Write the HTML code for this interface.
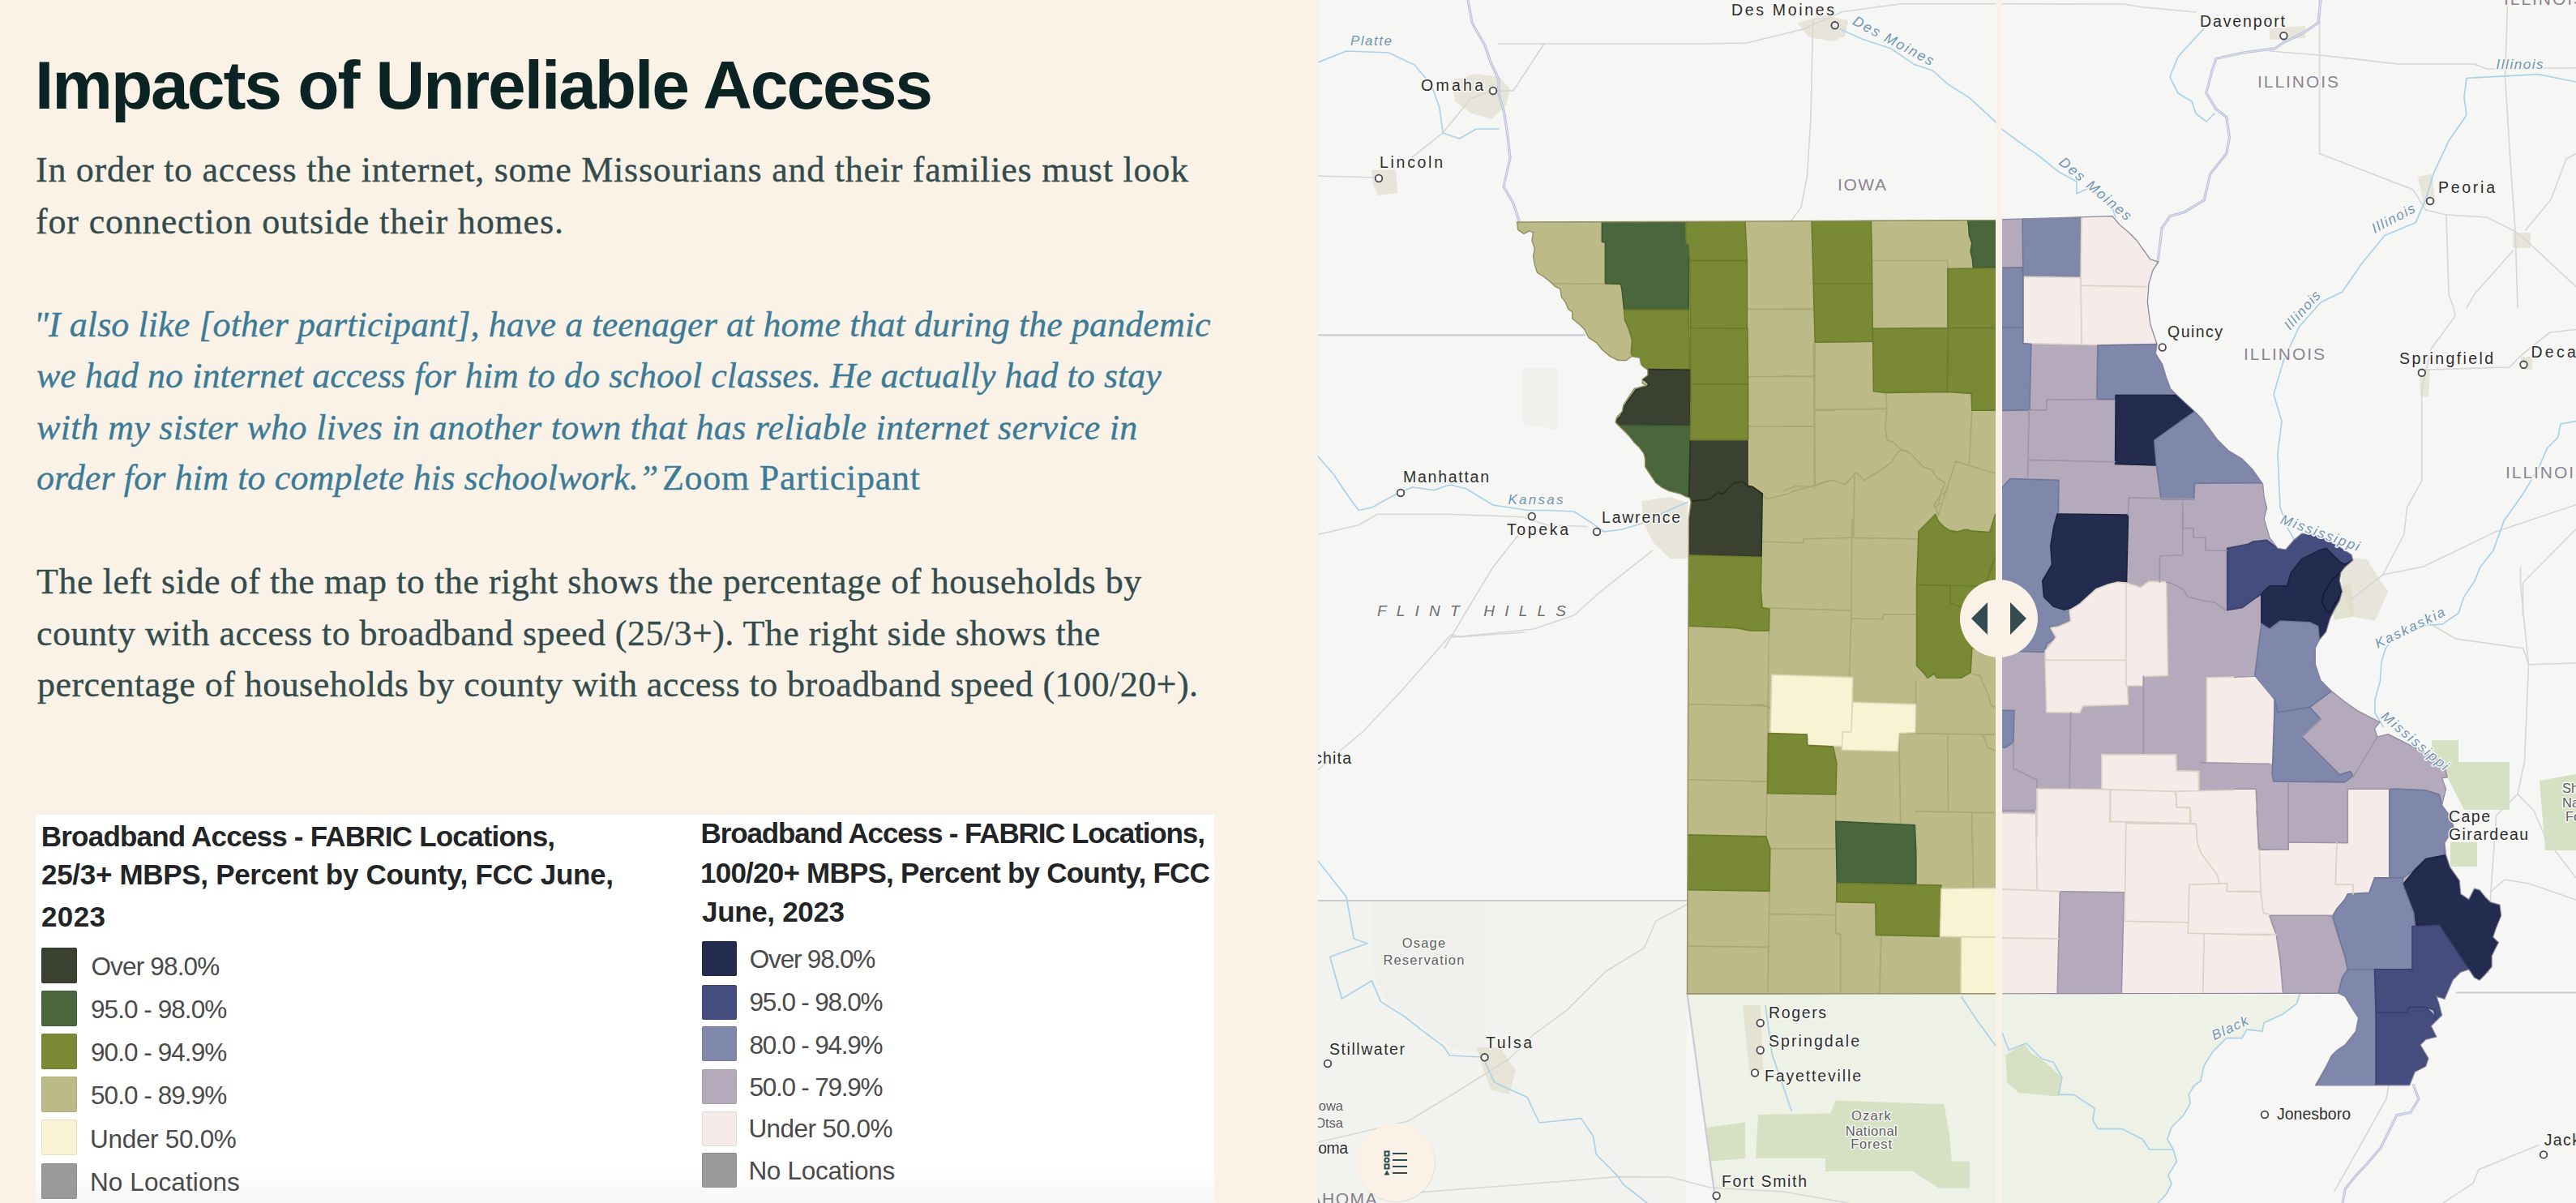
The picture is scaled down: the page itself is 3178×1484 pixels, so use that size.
<!DOCTYPE html>
<html><head><meta charset="utf-8"><title>Impacts of Unreliable Access</title>
<style>
html,body{margin:0;padding:0;width:3178px;height:1484px;overflow:hidden;background:#faf2e7}
#left{position:absolute;left:0;top:0;width:1626px;height:1484px;background:#faf2e7;overflow:hidden}
.ln{position:absolute;white-space:nowrap;line-height:1}
.b{-webkit-text-stroke:0.35px currentColor}
#map{position:absolute;left:1626px;top:0;display:block}
svg text{font-family:"Liberation Sans",sans-serif}
</style></head><body>
<div id="left">
<div class="ln" style="left:43.0px;top:62.9px;font-size:84px;font-family:'Liberation Sans', sans-serif;color:#0c2324;font-weight:bold;font-style:normal;letter-spacing:-2.074px">Impacts of Unreliable Access</div>
<div class="ln b" style="left:44.0px;top:188.2px;font-size:44px;font-family:'Liberation Serif', serif;color:#344b4c;font-weight:normal;font-style:normal;letter-spacing:0.740px">In order to access the internet, some Missourians and their families must look</div>
<div class="ln b" style="left:44.0px;top:252.2px;font-size:44px;font-family:'Liberation Serif', serif;color:#344b4c;font-weight:normal;font-style:normal;letter-spacing:0.853px">for connection outside their homes.</div>
<div class="ln b" style="left:41.4px;top:379.1px;font-size:44px;font-family:'Liberation Serif', serif;color:#3b7b98;font-weight:normal;font-style:italic;letter-spacing:0.079px">"I also like [other participant], have a teenager at home that during the pandemic</div>
<div class="ln b" style="left:45.0px;top:442.1px;font-size:44px;font-family:'Liberation Serif', serif;color:#3b7b98;font-weight:normal;font-style:italic;letter-spacing:0.026px">we had no internet access for him to do school classes. He actually had to stay</div>
<div class="ln b" style="left:45.0px;top:505.6px;font-size:44px;font-family:'Liberation Serif', serif;color:#3b7b98;font-weight:normal;font-style:italic;letter-spacing:0.283px">with my sister who lives in another town that has reliable internet service in</div>
<div class="ln b" style="left:45.0px;top:568.1px;font-size:44px;font-family:'Liberation Serif', serif;color:#3b7b98;font-weight:normal;font-style:italic;letter-spacing:0.122px">order for him to complete his schoolwork.”</div>
<div class="ln b" style="left:817.0px;top:568.1px;font-size:44px;font-family:'Liberation Serif', serif;color:#3b7b98;font-weight:normal;font-style:normal;letter-spacing:0.747px">Zoom Participant</div>
<div class="ln b" style="left:45.0px;top:696.1px;font-size:44px;font-family:'Liberation Serif', serif;color:#344b4c;font-weight:normal;font-style:normal;letter-spacing:0.557px">The left side of the map to the right shows the percentage of households by</div>
<div class="ln b" style="left:45.0px;top:760.1px;font-size:44px;font-family:'Liberation Serif', serif;color:#344b4c;font-weight:normal;font-style:normal;letter-spacing:0.457px">county with access to broadband speed (25/3+). The right side shows the</div>
<div class="ln b" style="left:46.0px;top:823.1px;font-size:44px;font-family:'Liberation Serif', serif;color:#344b4c;font-weight:normal;font-style:normal;letter-spacing:0.467px">percentage of households by county with access to broadband speed (100/20+).</div>
<div style="position:absolute;left:44px;top:1005px;width:1454px;height:479px;background:#fff"></div>
<div style="position:absolute;left:44px;top:1440px;width:1454px;height:44px;background:linear-gradient(#fff,#f6f6f6)"></div>
<div class="ln" style="left:50.8px;top:1013.9px;font-size:35px;font-family:'Liberation Sans', sans-serif;color:#222426;font-weight:bold;font-style:normal;letter-spacing:-0.789px">Broadband Access - FABRIC Locations,</div>
<div class="ln" style="left:51.0px;top:1061.4px;font-size:35px;font-family:'Liberation Sans', sans-serif;color:#222426;font-weight:bold;font-style:normal;letter-spacing:-0.308px">25/3+ MBPS, Percent by County, FCC June,</div>
<div class="ln" style="left:51.0px;top:1112.6px;font-size:35px;font-family:'Liberation Sans', sans-serif;color:#222426;font-weight:bold;font-style:normal;letter-spacing:0.400px">2023</div>
<div class="ln" style="left:864.6px;top:1010.4px;font-size:35px;font-family:'Liberation Sans', sans-serif;color:#222426;font-weight:bold;font-style:normal;letter-spacing:-1.131px">Broadband Access - FABRIC Locations,</div>
<div class="ln" style="left:864.0px;top:1058.7px;font-size:35px;font-family:'Liberation Sans', sans-serif;color:#222426;font-weight:bold;font-style:normal;letter-spacing:-0.771px">100/20+ MBPS, Percent by County, FCC</div>
<div class="ln" style="left:866.0px;top:1107.2px;font-size:35px;font-family:'Liberation Sans', sans-serif;color:#222426;font-weight:bold;font-style:normal;letter-spacing:-0.333px">June, 2023</div>
<div style="position:absolute;left:51px;top:1169px;width:44px;height:44px;background:#3a4130;border-radius:2px;box-shadow:inset 0 0 0 1px rgba(0,0,0,.08)"></div>
<div class="ln" style="left:112.4px;top:1176.9px;font-size:31.5px;font-family:'Liberation Sans', sans-serif;color:#4a4a4a;font-weight:normal;font-style:normal;letter-spacing:-0.822px">Over 98.0%</div>
<div style="position:absolute;left:866px;top:1161.4px;width:43px;height:43px;background:#232c4e;border-radius:2px;box-shadow:inset 0 0 0 1px rgba(0,0,0,.08)"></div>
<div class="ln" style="left:924.8px;top:1168.3px;font-size:31.5px;font-family:'Liberation Sans', sans-serif;color:#4a4a4a;font-weight:normal;font-style:normal;letter-spacing:-1.200px">Over 98.0%</div>
<div style="position:absolute;left:51px;top:1222px;width:44px;height:44px;background:#49663c;border-radius:2px;box-shadow:inset 0 0 0 1px rgba(0,0,0,.08)"></div>
<div class="ln" style="left:112.0px;top:1230.1px;font-size:31.5px;font-family:'Liberation Sans', sans-serif;color:#4a4a4a;font-weight:normal;font-style:normal;letter-spacing:-0.945px">95.0 - 98.0%</div>
<div style="position:absolute;left:866px;top:1214.6px;width:43px;height:43px;background:#444d7e;border-radius:2px;box-shadow:inset 0 0 0 1px rgba(0,0,0,.08)"></div>
<div class="ln" style="left:924.4px;top:1221.2px;font-size:31.5px;font-family:'Liberation Sans', sans-serif;color:#4a4a4a;font-weight:normal;font-style:normal;letter-spacing:-1.218px">95.0 - 98.0%</div>
<div style="position:absolute;left:51px;top:1274.5px;width:44px;height:44px;background:#7a8934;border-radius:2px;box-shadow:inset 0 0 0 1px rgba(0,0,0,.08)"></div>
<div class="ln" style="left:112.0px;top:1283.3px;font-size:31.5px;font-family:'Liberation Sans', sans-serif;color:#4a4a4a;font-weight:normal;font-style:normal;letter-spacing:-0.945px">90.0 - 94.9%</div>
<div style="position:absolute;left:866px;top:1266.1px;width:43px;height:43px;background:#7f87aa;border-radius:2px;box-shadow:inset 0 0 0 1px rgba(0,0,0,.08)"></div>
<div class="ln" style="left:924.4px;top:1273.5px;font-size:31.5px;font-family:'Liberation Sans', sans-serif;color:#4a4a4a;font-weight:normal;font-style:normal;letter-spacing:-1.218px">80.0 - 94.9%</div>
<div style="position:absolute;left:51px;top:1328px;width:44px;height:44px;background:#bcba86;border-radius:2px;box-shadow:inset 0 0 0 1px rgba(0,0,0,.08)"></div>
<div class="ln" style="left:112.0px;top:1336.3px;font-size:31.5px;font-family:'Liberation Sans', sans-serif;color:#4a4a4a;font-weight:normal;font-style:normal;letter-spacing:-0.945px">50.0 - 89.9%</div>
<div style="position:absolute;left:866px;top:1318.5px;width:43px;height:43px;background:#b4aabc;border-radius:2px;box-shadow:inset 0 0 0 1px rgba(0,0,0,.08)"></div>
<div class="ln" style="left:924.4px;top:1325.9px;font-size:31.5px;font-family:'Liberation Sans', sans-serif;color:#4a4a4a;font-weight:normal;font-style:normal;letter-spacing:-1.218px">50.0 - 79.9%</div>
<div style="position:absolute;left:51px;top:1381px;width:44px;height:44px;background:#f9f3d4;border-radius:2px;box-shadow:inset 0 0 0 1px rgba(0,0,0,.08)"></div>
<div class="ln" style="left:111.0px;top:1389.7px;font-size:31.5px;font-family:'Liberation Sans', sans-serif;color:#4a4a4a;font-weight:normal;font-style:normal;letter-spacing:-0.300px">Under 50.0%</div>
<div style="position:absolute;left:866px;top:1370.9px;width:43px;height:43px;background:#f5ecea;border-radius:2px;box-shadow:inset 0 0 0 1px rgba(0,0,0,.08)"></div>
<div class="ln" style="left:923.4px;top:1377.4px;font-size:31.5px;font-family:'Liberation Sans', sans-serif;color:#4a4a4a;font-weight:normal;font-style:normal;letter-spacing:-0.580px">Under 50.0%</div>
<div style="position:absolute;left:51px;top:1435px;width:44px;height:44px;background:#9a9a9a;border-radius:2px;box-shadow:inset 0 0 0 1px rgba(0,0,0,.08)"></div>
<div class="ln" style="left:111.0px;top:1442.9px;font-size:31.5px;font-family:'Liberation Sans', sans-serif;color:#4a4a4a;font-weight:normal;font-style:normal;letter-spacing:0.091px">No Locations</div>
<div style="position:absolute;left:866px;top:1422px;width:43px;height:43px;background:#9a9a9a;border-radius:2px;box-shadow:inset 0 0 0 1px rgba(0,0,0,.08)"></div>
<div class="ln" style="left:923.4px;top:1429.0px;font-size:31.5px;font-family:'Liberation Sans', sans-serif;color:#4a4a4a;font-weight:normal;font-style:normal;letter-spacing:-0.273px">No Locations</div>
</div>
<svg id="map" width="1552" height="1484" viewBox="1626 0 1552 1484">
<rect x="1626" y="0" width="1552" height="1484" fill="#f6f6f4"/>
<polygon points="2082.0,1226.0 2470.0,1226.0 2470.0,1484.0 2117.0,1484.0 2100.0,1350.0" fill="#eef1e5"/><polygon points="2470.0,1226.0 2837.5,1226.0 2833.3,1238.4 2816.4,1251.0 2793.1,1261.7 2791.0,1272.2 2772.0,1270.1 2765.7,1280.7 2746.7,1280.7 2729.8,1297.6 2719.2,1314.5 2715.0,1333.5 2706.5,1339.8 2700.2,1350.4 2702.3,1360.9 2693.9,1375.7 2679.1,1390.5 2673.8,1405.3 2681.2,1418.0 2685.4,1432.7 2674.9,1449.6 2679.1,1460.2 2672.7,1472.9 2662.2,1484.0 2470.0,1484.0" fill="#eef1e5"/><polygon points="1626.0,1112.0 2081.0,1112.0 2081.0,1484.0 1626.0,1484.0" fill="#f2f3ee"/><polygon points="1692.0,1112.0 1831.0,1112.0 1831.0,1300.0 1790.0,1292.0 1750.0,1262.0 1712.0,1236.0 1695.0,1200.0 1692.0,1160.0" fill="#efefeb"/><polygon points="1879.0,455.0 1922.0,455.0 1922.0,530.0 1879.0,524.0" fill="#f0f0ed"/><polygon points="2264.6,1357.6 2398.3,1362.3 2404.7,1397.4 2407.9,1432.4 2430.0,1432.4 2430.0,1465.8 2392.0,1465.8 2360.0,1445.0 2252.0,1445.0 2252.0,1429.0 2166.0,1429.0 2169.0,1375.0 2258.0,1373.5" fill="#d6e0c2"/><polygon points="2105.5,1391.0 2153.0,1384.6 2153.0,1429.0 2108.6,1432.4" fill="#d6e0c2"/><polygon points="2474.2,1301.8 2497.5,1287.0 2503.8,1297.6 2522.8,1310.3 2543.9,1329.3 2539.7,1352.5 2491.1,1348.3 2476.3,1335.6" fill="#d6e0c2"/><polygon points="3000.0,913.0 3033.0,913.0 3033.0,940.0 3096.0,940.0 3096.0,999.0 3040.0,999.0 3020.0,960.0 3000.0,943.0" fill="#d6e0c2"/><polygon points="3023.0,1039.0 3056.0,1039.0 3056.0,1069.0 3023.0,1069.0" fill="#d6e0c2"/><polygon points="3133.0,963.0 3178.0,955.0 3178.0,1049.0 3140.0,1049.0" fill="#d6e0c2"/><polygon points="2870.0,730.0 2900.0,720.0 2905.0,760.0 2880.0,765.0" fill="#e3e3d2"/><polygon points="1790.0,100.0 1820.0,91.0 1850.0,95.0 1863.0,110.0 1858.0,130.0 1840.0,147.0 1815.0,140.0 1795.0,125.0" fill="#dddbc6" opacity="0.6"/><polygon points="1692.0,210.0 1722.0,209.0 1724.0,238.0 1700.0,241.0 1694.0,228.0" fill="#dddbc6" opacity="0.6"/><polygon points="2217.0,28.0 2250.0,19.0 2280.0,25.0 2276.0,45.0 2260.0,51.0 2232.0,46.0" fill="#dddbc6" opacity="0.6"/><polygon points="2800.0,35.0 2844.0,32.0 2844.0,47.0 2800.0,49.0" fill="#dddbc6" opacity="0.6"/><polygon points="2983.0,218.0 3000.0,215.0 3005.0,250.0 2990.0,253.0" fill="#dddbc6" opacity="0.6"/><polygon points="3100.0,287.0 3122.0,287.0 3122.0,306.0 3100.0,306.0" fill="#dddbc6" opacity="0.6"/><polygon points="2025.0,618.0 2060.0,613.0 2082.0,620.0 2082.0,689.0 2060.0,689.0 2040.0,670.0 2028.0,645.0" fill="#dddbc6" opacity="0.6"/><polygon points="1822.0,1292.0 1850.0,1292.0 1870.0,1320.0 1862.0,1350.0 1840.0,1345.0 1830.0,1320.0" fill="#dddbc6" opacity="0.6"/><polygon points="2150.0,1240.0 2172.0,1240.0 2175.0,1320.0 2158.0,1320.0" fill="#dddbc6" opacity="0.6"/><polygon points="2985.0,455.0 2998.0,455.0 2996.0,490.0 2986.0,488.0" fill="#dddbc6" opacity="0.6"/><polygon points="2886.0,686.0 2920.0,690.0 2946.0,730.0 2930.0,766.0 2900.0,760.0 2890.0,730.0" fill="#dddbc6" opacity="0.6"/><polygon points="3110.0,440.0 3124.0,440.0 3124.0,456.0 3110.0,456.0" fill="#dddbc6" opacity="0.6"/><polyline points="1849.0,54.0 2100.0,54.0 2155.0,53.0 2224.7,36.0 2273.0,14.5 2345.0,4.8 2480.0,4.8 2620.0,5.0 2645.0,9.0 2709.0,15.0" fill="none" stroke="#d6d6d4" stroke-width="1.6" stroke-linejoin="round" stroke-linecap="round"/><polyline points="1905.0,54.0 1880.0,92.0 1867.0,112.0" fill="none" stroke="#d6d6d4" stroke-width="1.6" stroke-linejoin="round" stroke-linecap="round"/><polyline points="1741.0,195.0 1780.0,164.0 1814.0,122.0 1840.0,112.0 1867.0,112.0" fill="none" stroke="#d6d6d4" stroke-width="1.6" stroke-linejoin="round" stroke-linecap="round"/><polyline points="1626.0,217.0 1696.0,219.0" fill="none" stroke="#d6d6d4" stroke-width="1.6" stroke-linejoin="round" stroke-linecap="round"/><polyline points="2236.7,24.0 2234.0,145.0 2229.5,217.0 2222.0,255.6 2208.0,275.0" fill="none" stroke="#d6d6d4" stroke-width="1.6" stroke-linejoin="round" stroke-linecap="round"/><polyline points="2861.6,0.0 2861.6,189.5 2976.8,233.7 2992.6,259.0" fill="none" stroke="#d6d6d4" stroke-width="1.6" stroke-linejoin="round" stroke-linecap="round"/><polyline points="2800.0,63.0 2861.6,68.0 2904.0,72.6 2958.0,79.0 3052.6,79.0 3068.0,85.0 3178.0,83.7" fill="none" stroke="#d6d6d4" stroke-width="1.6" stroke-linejoin="round" stroke-linecap="round"/><polyline points="3093.7,0.0 3090.5,94.7 3096.8,195.8 3103.0,284.0 3106.0,380.0" fill="none" stroke="#d6d6d4" stroke-width="1.6" stroke-linejoin="round" stroke-linecap="round"/><polyline points="2992.6,259.0 3018.0,265.0 3068.0,268.0 3100.0,284.0 3115.0,295.0 3178.0,353.7" fill="none" stroke="#d6d6d4" stroke-width="1.6" stroke-linejoin="round" stroke-linecap="round"/><polyline points="3018.0,265.0 3021.0,363.0 3027.0,380.0 3029.0,390.0 2999.5,430.0 2993.0,456.4 2987.8,479.7 2987.8,592.8 2969.5,626.0 2966.0,659.0 2939.6,709.0 2900.0,740.0" fill="none" stroke="#d6d6d4" stroke-width="1.6" stroke-linejoin="round" stroke-linecap="round"/><polyline points="3100.0,309.5 3052.6,363.0 3043.0,380.0" fill="none" stroke="#d6d6d4" stroke-width="1.6" stroke-linejoin="round" stroke-linecap="round"/><polyline points="3115.8,284.0 3147.0,246.0 3166.0,196.0 3178.0,189.5" fill="none" stroke="#d6d6d4" stroke-width="1.6" stroke-linejoin="round" stroke-linecap="round"/><polyline points="2993.0,456.0 3096.0,453.0 3112.5,436.5 3145.8,410.0 3178.0,406.5" fill="none" stroke="#d6d6d4" stroke-width="1.6" stroke-linejoin="round" stroke-linecap="round"/><polyline points="2939.6,709.0 2989.5,699.0 3079.0,656.0 3178.0,622.7" fill="none" stroke="#d6d6d4" stroke-width="1.6" stroke-linejoin="round" stroke-linecap="round"/><polyline points="3112.5,760.0 3112.5,719.0 3178.0,652.6" fill="none" stroke="#d6d6d4" stroke-width="1.6" stroke-linejoin="round" stroke-linecap="round"/><polyline points="3109.5,700.0 3109.5,720.0 3119.5,820.0 3114.5,939.5 3106.0,979.4 3079.6,1006.0 3073.0,1100.0 3070.0,1200.0" fill="none" stroke="#d6d6d4" stroke-width="1.6" stroke-linejoin="round" stroke-linecap="round"/><polyline points="2993.0,766.5 3029.7,788.0 3112.8,799.8 3119.5,819.7 3178.0,818.0" fill="none" stroke="#d6d6d4" stroke-width="1.6" stroke-linejoin="round" stroke-linecap="round"/><polyline points="3106.0,979.4 3126.0,1000.0 3140.0,1033.0 3165.0,1066.0 3178.0,1083.0" fill="none" stroke="#d6d6d4" stroke-width="1.6" stroke-linejoin="round" stroke-linecap="round"/><polyline points="1626.0,659.4 1676.0,647.8 1699.0,634.5 1792.0,634.5 1878.8,637.8 1908.7,647.8 1958.6,649.5" fill="none" stroke="#d6d6d4" stroke-width="1.6" stroke-linejoin="round" stroke-linecap="round"/><polyline points="1878.8,652.8 1842.0,699.4 1812.0,749.0 1782.0,800.0" fill="none" stroke="#d6d6d4" stroke-width="1.6" stroke-linejoin="round" stroke-linecap="round"/><polyline points="2038.4,679.4 1975.0,729.3 1942.0,759.0 1892.0,776.0 1792.0,786.0" fill="none" stroke="#d6d6d4" stroke-width="1.6" stroke-linejoin="round" stroke-linecap="round"/><polyline points="1626.0,949.5 1682.5,901.5 1727.7,853.5 1790.0,783.0 1801.0,785.6 1880.0,780.0" fill="none" stroke="#d6d6d4" stroke-width="1.6" stroke-linejoin="round" stroke-linecap="round"/><polyline points="2081.0,1115.7 2043.0,1136.0 2028.4,1169.2 1980.4,1198.7 1932.4,1246.7 1891.8,1276.3 1862.3,1305.8 1792.0,1350.0 1736.7,1383.3 1626.0,1409.0" fill="none" stroke="#d6d6d4" stroke-width="1.6" stroke-linejoin="round" stroke-linecap="round"/><polyline points="1736.7,1471.9 1884.4,1460.8 1995.0,1451.6 2060.0,1452.0 2110.0,1465.0 2200.0,1470.0 2280.0,1484.0" fill="none" stroke="#d6d6d4" stroke-width="1.6" stroke-linejoin="round" stroke-linecap="round"/><polyline points="2947.0,1338.7 2944.0,1355.5 2880.0,1469.7" fill="none" stroke="#d6d6d4" stroke-width="1.6" stroke-linejoin="round" stroke-linecap="round"/><polyline points="3132.0,1412.6 3058.0,1442.8 3051.0,1459.6 3014.0,1484.0" fill="none" stroke="#d6d6d4" stroke-width="1.6" stroke-linejoin="round" stroke-linecap="round"/><polyline points="3073.0,1100.0 3090.0,1085.0 3120.0,1090.0 3178.0,1110.0" fill="none" stroke="#d6d6d4" stroke-width="1.6" stroke-linejoin="round" stroke-linecap="round"/><polyline points="1626.0,413.3 1955.0,413.3" fill="none" stroke="#cdc8d4" stroke-width="2.2" stroke-linejoin="round" stroke-linecap="round"/><polyline points="1626.0,1111.0 2081.0,1111.0" fill="none" stroke="#cdc8d4" stroke-width="2.2" stroke-linejoin="round" stroke-linecap="round"/><polyline points="2081.6,1227.0 2115.0,1470.6 2117.0,1484.0" fill="none" stroke="#cdc8d4" stroke-width="2.2" stroke-linejoin="round" stroke-linecap="round"/><polyline points="3031.0,1224.5 3178.0,1224.5" fill="none" stroke="#cdc8d4" stroke-width="2.2" stroke-linejoin="round" stroke-linecap="round"/><polyline points="1811.0,0.0 1816.0,28.0 1832.0,56.0 1839.0,77.0 1849.0,98.0 1849.0,115.0 1856.0,140.0 1860.0,168.0 1863.0,195.0 1855.0,230.0 1867.0,251.0 1874.0,272.0" fill="none" stroke="#bcc0dc" stroke-width="3.2" stroke-linejoin="round" stroke-linecap="round"/><polyline points="1811.0,0.0 1816.0,28.0 1832.0,56.0 1839.0,77.0 1849.0,98.0 1849.0,115.0 1856.0,140.0 1860.0,168.0 1863.0,195.0 1855.0,230.0 1867.0,251.0 1874.0,272.0" fill="none" stroke="#e4e7f2" stroke-width="1.0" stroke-linejoin="round" stroke-linecap="round"/><polyline points="2863.0,0.0 2860.0,28.0 2841.0,41.0 2818.0,52.0 2806.6,59.8 2769.0,64.8 2734.0,72.3 2729.0,87.3 2721.8,114.7 2734.0,134.6 2746.7,144.6 2750.5,169.5 2746.7,189.5 2726.8,214.4 2719.3,246.8 2694.4,261.8 2677.0,266.8 2667.0,281.7 2665.0,300.0 2662.0,323.0" fill="none" stroke="#bcc0dc" stroke-width="3.2" stroke-linejoin="round" stroke-linecap="round"/><polyline points="2863.0,0.0 2860.0,28.0 2841.0,41.0 2818.0,52.0 2806.6,59.8 2769.0,64.8 2734.0,72.3 2729.0,87.3 2721.8,114.7 2734.0,134.6 2746.7,144.6 2750.5,169.5 2746.7,189.5 2726.8,214.4 2719.3,246.8 2694.4,261.8 2677.0,266.8 2667.0,281.7 2665.0,300.0 2662.0,323.0" fill="none" stroke="#e4e7f2" stroke-width="1.0" stroke-linejoin="round" stroke-linecap="round"/><polyline points="2977.4,1338.7 2984.0,1355.5 2974.0,1372.3 2957.0,1375.6 2947.0,1395.8 2937.0,1416.0 2920.0,1436.0 2907.0,1449.6 2893.4,1466.4 2890.0,1484.0" fill="none" stroke="#bcc0dc" stroke-width="3.2" stroke-linejoin="round" stroke-linecap="round"/><polyline points="2977.4,1338.7 2984.0,1355.5 2974.0,1372.3 2957.0,1375.6 2947.0,1395.8 2937.0,1416.0 2920.0,1436.0 2907.0,1449.6 2893.4,1466.4 2890.0,1484.0" fill="none" stroke="#e4e7f2" stroke-width="1.0" stroke-linejoin="round" stroke-linecap="round"/><polyline points="1626.0,77.0 1661.0,63.0 1713.0,65.0 1745.0,80.0 1766.0,105.0 1776.0,133.0 1780.0,164.0 1800.5,171.0 1821.5,159.0 1849.0,159.0" fill="none" stroke="#a9d2ea" stroke-width="1.7" stroke-linejoin="round" stroke-linecap="round"/><polyline points="2270.5,36.0 2297.0,48.0 2333.0,60.0 2362.0,79.6 2384.0,86.8 2403.0,103.7 2429.6,120.6 2461.0,149.5 2470.0,159.6 2490.0,174.5 2515.0,192.0 2540.0,212.0 2562.0,224.0 2562.0,239.0 2577.0,232.0 2595.0,244.0 2607.0,259.0 2610.0,268.0" fill="none" stroke="#a9d2ea" stroke-width="1.7" stroke-linejoin="round" stroke-linecap="round"/><polyline points="2719.0,35.0 2687.0,70.0 2677.0,95.0 2687.0,115.0 2704.0,125.0 2709.0,140.0 2722.0,150.0 2732.0,140.0" fill="none" stroke="#a9d2ea" stroke-width="1.7" stroke-linejoin="round" stroke-linecap="round"/><polyline points="3178.0,101.0 3131.6,91.6 3043.0,96.3 3040.0,120.0 3043.0,142.0 3021.0,173.7 3002.0,214.7 2992.6,246.3 2980.0,274.7 2942.0,290.5 2913.7,325.0 2889.7,360.0 2863.0,373.0 2836.5,403.0 2816.6,446.4 2805.0,486.4 2815.0,519.6 2810.0,559.5 2813.0,626.0 2823.0,652.6 2830.0,665.0" fill="none" stroke="#a9d2ea" stroke-width="1.7" stroke-linejoin="round" stroke-linecap="round"/><polyline points="3178.0,519.6 3159.0,523.0 3155.7,539.6 3142.4,552.9 3132.5,576.0 3112.5,609.4 3089.0,642.6 3076.0,679.0 3059.6,700.0 3053.0,716.6 3039.6,736.6 3033.0,756.5 3013.0,770.0 2993.0,771.5 2973.0,780.0 2953.0,786.5 2943.0,800.0 2938.0,816.4 2936.5,839.7 2930.0,863.0 2930.0,879.6 2940.0,896.0" fill="none" stroke="#a9d2ea" stroke-width="1.7" stroke-linejoin="round" stroke-linecap="round"/><polyline points="1626.0,563.0 1646.0,586.0 1659.0,606.0 1676.0,629.5 1692.5,626.0 1722.5,609.5 1742.4,601.0 1769.0,604.6 1789.0,598.0 1809.0,603.0 1842.0,623.0 1885.0,629.5 1908.7,629.5 1942.0,631.0 1965.0,646.0 1978.6,656.0 2002.0,652.8 2025.0,646.0 2051.7,632.8 2081.7,619.5" fill="none" stroke="#a9d2ea" stroke-width="1.7" stroke-linejoin="round" stroke-linecap="round"/><polyline points="1626.0,1062.0 1661.0,1106.4 1670.3,1158.0 1687.0,1163.7 1640.8,1180.3 1648.0,1206.0 1655.5,1232.0 1692.4,1209.8 1703.5,1235.6 1733.0,1254.0 1751.5,1268.9 1781.0,1291.0 1788.4,1302.0 1829.0,1304.0 1843.8,1335.3 1884.4,1353.8 1899.0,1385.0 1950.8,1379.6 1965.6,1401.8 1969.3,1424.0 1995.0,1449.8 2002.5,1460.8 2032.0,1484.0" fill="none" stroke="#a9d2ea" stroke-width="1.7" stroke-linejoin="round" stroke-linecap="round"/><polyline points="2837.5,1226.0 2833.3,1238.4 2816.4,1251.0 2793.1,1261.7 2791.0,1272.2 2772.0,1270.1 2765.7,1280.7 2746.7,1280.7 2729.8,1297.6 2719.2,1314.5 2715.0,1333.5 2706.5,1339.8 2700.2,1350.4 2702.3,1360.9 2693.9,1375.7 2679.1,1390.5 2673.8,1405.3 2681.2,1418.0 2685.4,1432.7 2674.9,1449.6 2679.1,1460.2 2672.7,1472.9 2662.2,1484.0" fill="none" stroke="#a9d2ea" stroke-width="1.7" stroke-linejoin="round" stroke-linecap="round"/><polyline points="2470.0,1274.4 2478.4,1295.5 2499.6,1287.0 2518.6,1306.0 2533.4,1310.3 2543.9,1329.3 2539.7,1350.4 2558.7,1350.4 2584.0,1367.3 2581.9,1382.1 2588.3,1392.6 2617.8,1392.6 2643.2,1405.3 2651.6,1418.0 2681.2,1418.0" fill="none" stroke="#a9d2ea" stroke-width="1.7" stroke-linejoin="round" stroke-linecap="round"/><polyline points="2178.0,1240.0 2186.0,1300.0 2200.0,1340.0 2210.0,1370.0" fill="none" stroke="#a9d2ea" stroke-width="1.7" stroke-linejoin="round" stroke-linecap="round"/><polyline points="2420.0,1230.0 2440.0,1260.0 2462.0,1290.0" fill="none" stroke="#a9d2ea" stroke-width="1.7" stroke-linejoin="round" stroke-linecap="round"/><polyline points="2900.0,1226.0 2930.0,1240.0 2950.0,1260.0" fill="none" stroke="#a9d2ea" stroke-width="1.7" stroke-linejoin="round" stroke-linecap="round"/>
<defs>
<clipPath id="mo"><polygon points="1871.6,274.0 2100.0,273.2 2300.0,272.3 2462.0,271.5 2470.0,270.6 2606.0,266.6 2614.5,276.6 2626.2,286.6 2636.1,296.5 2644.4,308.2 2652.8,319.8 2662.7,323.1 2656.1,333.1 2651.1,349.7 2649.4,373.0 2652.8,399.6 2661.1,424.5 2659.4,436.1 2667.7,449.4 2672.7,466.0 2677.7,479.3 2686.0,487.6 2707.6,507.6 2715.9,515.9 2725.9,529.2 2735.8,542.5 2749.1,555.7 2765.7,565.7 2779.0,579.0 2790.7,595.6 2791.6,596.6 2793.2,613.2 2796.6,626.5 2793.2,639.8 2799.9,663.0 2809.9,676.3 2819.8,678.0 2829.8,666.3 2839.8,658.0 2853.1,659.7 2869.7,664.7 2886.3,674.7 2901.2,684.6 2902.9,691.3 2892.9,699.6 2887.9,706.2 2886.3,716.2 2889.6,729.5 2886.3,741.1 2879.6,752.8 2874.7,762.7 2869.7,779.3 2861.4,789.3 2856.4,799.3 2856.4,819.2 2863.0,839.2 2876.3,852.5 2892.9,865.7 2909.6,877.4 2926.2,885.7 2936.1,890.7 2929.5,899.0 2932.8,909.0 2946.1,905.6 2966.0,915.6 2986.0,925.6 3005.9,935.5 3015.9,945.5 3019.2,958.8 3012.6,959.9 3017.6,973.2 3012.6,993.2 3022.5,1006.5 3027.5,1021.4 3015.9,1039.7 3017.6,1054.7 3022.5,1069.6 3034.2,1086.2 3035.8,1102.8 3045.8,1109.5 3052.5,1096.2 3059.1,1097.9 3065.7,1106.2 3072.4,1112.8 3084.0,1116.1 3085.7,1129.4 3079.0,1146.0 3075.7,1156.0 3082.4,1162.7 3079.0,1169.3 3074.1,1179.3 3074.1,1192.6 3065.7,1202.5 3059.1,1209.2 3052.5,1205.9 3045.8,1195.9 3035.8,1199.2 3025.9,1209.2 3015.9,1232.5 3005.9,1229.1 3009.3,1239.1 3012.6,1252.4 3005.9,1259.0 2999.3,1265.7 3005.9,1279.0 2992.6,1282.3 2986.0,1289.0 2996.0,1305.6 2992.6,1315.5 2979.3,1322.2 2972.7,1338.8 2856.4,1338.8 2869.7,1315.5 2876.3,1302.2 2883.0,1295.6 2892.9,1289.0 2906.2,1272.3 2909.6,1255.7 2902.9,1245.7 2892.9,1229.1 2884.6,1225.1 2700.0,1225.5 2400.0,1225.8 2200.0,1226.0 2081.5,1226.0 2082.5,900.0 2083.4,640.0 2086.1,619.1 2084.4,614.1 2079.5,612.5 2072.8,609.1 2059.5,605.8 2049.5,600.8 2042.9,595.8 2036.2,585.9 2029.6,575.9 2029.6,565.9 2027.9,559.3 2022.9,552.6 2016.3,546.0 2009.6,537.6 1999.7,527.7 1993.0,521.0 1994.7,514.4 2001.3,507.7 2003.0,499.4 2009.6,489.4 2016.3,479.5 2022.9,477.8 2031.2,475.5 2026.3,472.8 2026.3,467.8 2032.9,462.8 2032.9,456.2 2027.9,452.9 2024.6,449.5 2022.9,441.2 2013.0,439.6 2006.3,444.5 1996.3,444.5 1986.4,439.6 1976.4,431.2 1969.7,422.9 1959.8,416.3 1954.8,406.3 1948.1,399.7 1939.8,393.0 1939.8,384.7 1934.8,381.4 1931.5,373.1 1926.5,366.4 1924.8,356.4 1918.2,353.1 1913.2,348.1 1904.9,341.5 1896.6,336.5 1893.3,326.5 1891.6,316.5 1893.3,306.6 1889.9,296.6 1891.6,286.6 1886.6,284.9 1880.0,288.3 1872.6,283.3 1871.6,274.0"/></clipPath>
<clipPath id="lh"><rect x="1600" y="0" width="862" height="1484"/></clipPath>
<clipPath id="rh"><rect x="2470" y="0" width="800" height="1484"/></clipPath>
</defs>
<g clip-path="url(#lh)"><g clip-path="url(#mo)"><polygon points="1871.6,274.0 2100.0,273.2 2300.0,272.3 2462.0,271.5 2470.0,270.6 2606.0,266.6 2614.5,276.6 2626.2,286.6 2636.1,296.5 2644.4,308.2 2652.8,319.8 2662.7,323.1 2656.1,333.1 2651.1,349.7 2649.4,373.0 2652.8,399.6 2661.1,424.5 2659.4,436.1 2667.7,449.4 2672.7,466.0 2677.7,479.3 2686.0,487.6 2707.6,507.6 2715.9,515.9 2725.9,529.2 2735.8,542.5 2749.1,555.7 2765.7,565.7 2779.0,579.0 2790.7,595.6 2791.6,596.6 2793.2,613.2 2796.6,626.5 2793.2,639.8 2799.9,663.0 2809.9,676.3 2819.8,678.0 2829.8,666.3 2839.8,658.0 2853.1,659.7 2869.7,664.7 2886.3,674.7 2901.2,684.6 2902.9,691.3 2892.9,699.6 2887.9,706.2 2886.3,716.2 2889.6,729.5 2886.3,741.1 2879.6,752.8 2874.7,762.7 2869.7,779.3 2861.4,789.3 2856.4,799.3 2856.4,819.2 2863.0,839.2 2876.3,852.5 2892.9,865.7 2909.6,877.4 2926.2,885.7 2936.1,890.7 2929.5,899.0 2932.8,909.0 2946.1,905.6 2966.0,915.6 2986.0,925.6 3005.9,935.5 3015.9,945.5 3019.2,958.8 3012.6,959.9 3017.6,973.2 3012.6,993.2 3022.5,1006.5 3027.5,1021.4 3015.9,1039.7 3017.6,1054.7 3022.5,1069.6 3034.2,1086.2 3035.8,1102.8 3045.8,1109.5 3052.5,1096.2 3059.1,1097.9 3065.7,1106.2 3072.4,1112.8 3084.0,1116.1 3085.7,1129.4 3079.0,1146.0 3075.7,1156.0 3082.4,1162.7 3079.0,1169.3 3074.1,1179.3 3074.1,1192.6 3065.7,1202.5 3059.1,1209.2 3052.5,1205.9 3045.8,1195.9 3035.8,1199.2 3025.9,1209.2 3015.9,1232.5 3005.9,1229.1 3009.3,1239.1 3012.6,1252.4 3005.9,1259.0 2999.3,1265.7 3005.9,1279.0 2992.6,1282.3 2986.0,1289.0 2996.0,1305.6 2992.6,1315.5 2979.3,1322.2 2972.7,1338.8 2856.4,1338.8 2869.7,1315.5 2876.3,1302.2 2883.0,1295.6 2892.9,1289.0 2906.2,1272.3 2909.6,1255.7 2902.9,1245.7 2892.9,1229.1 2884.6,1225.1 2700.0,1225.5 2400.0,1225.8 2200.0,1226.0 2081.5,1226.0 2082.5,900.0 2083.4,640.0 2086.1,619.1 2084.4,614.1 2079.5,612.5 2072.8,609.1 2059.5,605.8 2049.5,600.8 2042.9,595.8 2036.2,585.9 2029.6,575.9 2029.6,565.9 2027.9,559.3 2022.9,552.6 2016.3,546.0 2009.6,537.6 1999.7,527.7 1993.0,521.0 1994.7,514.4 2001.3,507.7 2003.0,499.4 2009.6,489.4 2016.3,479.5 2022.9,477.8 2031.2,475.5 2026.3,472.8 2026.3,467.8 2032.9,462.8 2032.9,456.2 2027.9,452.9 2024.6,449.5 2022.9,441.2 2013.0,439.6 2006.3,444.5 1996.3,444.5 1986.4,439.6 1976.4,431.2 1969.7,422.9 1959.8,416.3 1954.8,406.3 1948.1,399.7 1939.8,393.0 1939.8,384.7 1934.8,381.4 1931.5,373.1 1926.5,366.4 1924.8,356.4 1918.2,353.1 1913.2,348.1 1904.9,341.5 1896.6,336.5 1893.3,326.5 1891.6,316.5 1893.3,306.6 1889.9,296.6 1891.6,286.6 1886.6,284.9 1880.0,288.3 1872.6,283.3 1871.6,274.0" fill="#bcba86"/><polyline points="1914.9,349.8 1999.7,350.4" fill="none" stroke="#a9a775" stroke-width="1.6" stroke-linejoin="round" stroke-linecap="round"/><polyline points="2155.3,381.4 2237.4,381.4" fill="none" stroke="#a9a775" stroke-width="1.6" stroke-linejoin="round" stroke-linecap="round"/><polyline points="2156.6,464.5 2238.1,464.5" fill="none" stroke="#a9a775" stroke-width="1.6" stroke-linejoin="round" stroke-linecap="round"/><polyline points="2156.6,526.0 2239.1,526.0" fill="none" stroke="#a9a775" stroke-width="1.6" stroke-linejoin="round" stroke-linecap="round"/><polyline points="2239.1,506.1 2262.3,506.1" fill="none" stroke="#a9a775" stroke-width="1.6" stroke-linejoin="round" stroke-linecap="round"/><polyline points="2237.4,422.9 2239.1,599.2" fill="none" stroke="#a9a775" stroke-width="1.6" stroke-linejoin="round" stroke-linecap="round"/><polyline points="2174.2,609.1 2179.2,615.8 2192.5,612.5 2205.8,609.1 2212.5,605.8 2225.8,602.5 2239.1,599.2 2260.0,592.5" fill="none" stroke="#a9a775" stroke-width="1.6" stroke-linejoin="round" stroke-linecap="round"/><polyline points="2200.0,381.4 2237.2,381.4" fill="none" stroke="#a9a775" stroke-width="1.6" stroke-linejoin="round" stroke-linecap="round"/><polyline points="2200.0,463.5 2238.2,464.5" fill="none" stroke="#a9a775" stroke-width="1.6" stroke-linejoin="round" stroke-linecap="round"/><polyline points="2200.0,526.0 2238.2,526.0" fill="none" stroke="#a9a775" stroke-width="1.6" stroke-linejoin="round" stroke-linecap="round"/><polyline points="2239.2,422.3 2238.2,602.5" fill="none" stroke="#a9a775" stroke-width="1.6" stroke-linejoin="round" stroke-linecap="round"/><polyline points="2239.2,505.4 2326.4,504.4" fill="none" stroke="#a9a775" stroke-width="1.6" stroke-linejoin="round" stroke-linecap="round"/><polyline points="2310.4,321.5 2402.8,321.5 2402.8,331.5" fill="none" stroke="#a9a775" stroke-width="1.6" stroke-linejoin="round" stroke-linecap="round"/><polyline points="2326.4,484.4 2328.0,506.1 2325.7,526.0 2328.0,542.6 2336.3,546.0 2343.0,552.6 2356.3,559.3 2362.9,565.9 2372.9,575.9 2382.9,579.2 2389.5,589.2 2399.5,595.8 2392.9,612.5 2386.2,622.4 2391.2,635.7" fill="none" stroke="#a9a775" stroke-width="1.6" stroke-linejoin="round" stroke-linecap="round"/><polyline points="2432.8,506.1 2429.4,572.6" fill="none" stroke="#a9a775" stroke-width="1.6" stroke-linejoin="round" stroke-linecap="round"/><polyline points="2412.8,569.2 2462.7,584.2" fill="none" stroke="#a9a775" stroke-width="1.6" stroke-linejoin="round" stroke-linecap="round"/><polyline points="2200.0,605.8 2216.6,599.2 2233.3,600.8 2249.9,594.2 2259.9,592.5 2276.5,597.5 2289.8,582.5 2299.8,592.5 2316.4,582.5 2333.0,570.9 2343.0,555.9 2353.0,555.9" fill="none" stroke="#a9a775" stroke-width="1.6" stroke-linejoin="round" stroke-linecap="round"/><polyline points="2288.1,582.5 2286.5,662.3" fill="none" stroke="#a9a775" stroke-width="1.6" stroke-linejoin="round" stroke-linecap="round"/><polyline points="2391.2,635.7 2412.8,569.2" fill="none" stroke="#a9a775" stroke-width="1.6" stroke-linejoin="round" stroke-linecap="round"/><polyline points="2403.2,600.0 2401.5,605.0 2398.2,608.3 2393.2,611.6 2394.0,615.0 2391.5,618.3 2393.2,620.8 2389.9,623.3 2387.8,626.6" fill="none" stroke="#a9a775" stroke-width="1.6" stroke-linejoin="round" stroke-linecap="round"/><polyline points="2083.3,868.6 2182.4,871.0" fill="none" stroke="#a9a775" stroke-width="1.6" stroke-linejoin="round" stroke-linecap="round"/><polyline points="2083.3,961.7 2179.0,964.0" fill="none" stroke="#a9a775" stroke-width="1.6" stroke-linejoin="round" stroke-linecap="round"/><polyline points="2182.4,777.9 2179.0,1032.2" fill="none" stroke="#a9a775" stroke-width="1.6" stroke-linejoin="round" stroke-linecap="round"/><polyline points="2175.0,668.3 2224.9,669.9 2224.9,665.0 2284.8,663.3 2366.3,665.0" fill="none" stroke="#a9a775" stroke-width="1.6" stroke-linejoin="round" stroke-linecap="round"/><polyline points="2284.8,640.0 2283.8,763.1 2281.4,832.9" fill="none" stroke="#a9a775" stroke-width="1.6" stroke-linejoin="round" stroke-linecap="round"/><polyline points="2173.3,749.8 2283.1,753.1" fill="none" stroke="#a9a775" stroke-width="1.6" stroke-linejoin="round" stroke-linecap="round"/><polyline points="2283.1,763.1 2323.0,763.8 2323.0,758.1 2363.6,758.1" fill="none" stroke="#a9a775" stroke-width="1.6" stroke-linejoin="round" stroke-linecap="round"/><polyline points="2160.0,869.5 2173.3,868.9 2183.3,872.9" fill="none" stroke="#a9a775" stroke-width="1.6" stroke-linejoin="round" stroke-linecap="round"/><polyline points="2160.0,964.4 2180.6,964.4" fill="none" stroke="#a9a775" stroke-width="1.6" stroke-linejoin="round" stroke-linecap="round"/><polyline points="2363.6,839.6 2363.6,902.8" fill="none" stroke="#a9a775" stroke-width="1.6" stroke-linejoin="round" stroke-linecap="round"/><polyline points="2342.3,904.5 2462.1,906.1" fill="none" stroke="#a9a775" stroke-width="1.6" stroke-linejoin="round" stroke-linecap="round"/><polyline points="2402.8,906.1 2403.5,1000.9" fill="none" stroke="#a9a775" stroke-width="1.6" stroke-linejoin="round" stroke-linecap="round"/><polyline points="2362.9,1000.9 2462.1,1002.6" fill="none" stroke="#a9a775" stroke-width="1.6" stroke-linejoin="round" stroke-linecap="round"/><polyline points="2343.0,904.5 2344.6,1015.9" fill="none" stroke="#a9a775" stroke-width="1.6" stroke-linejoin="round" stroke-linecap="round"/><polyline points="2432.8,1002.6 2433.5,1042.5" fill="none" stroke="#a9a775" stroke-width="1.6" stroke-linejoin="round" stroke-linecap="round"/><polyline points="2264.8,980.0 2264.8,1013.3" fill="none" stroke="#a9a775" stroke-width="1.6" stroke-linejoin="round" stroke-linecap="round"/><polyline points="2446.1,906.1 2452.7,922.8 2462.1,926.1" fill="none" stroke="#a9a775" stroke-width="1.6" stroke-linejoin="round" stroke-linecap="round"/><polyline points="2432.8,831.3 2442.8,832.9 2446.1,842.9 2452.7,856.2 2456.1,869.5 2462.1,872.9" fill="none" stroke="#a9a775" stroke-width="1.6" stroke-linejoin="round" stroke-linecap="round"/><polyline points="2081.2,1167.0 2181.5,1168.4" fill="none" stroke="#a9a775" stroke-width="1.6" stroke-linejoin="round" stroke-linecap="round"/><polyline points="2181.5,1127.4 2264.9,1128.8" fill="none" stroke="#a9a775" stroke-width="1.6" stroke-linejoin="round" stroke-linecap="round"/><polyline points="2183.0,1099.1 2181.0,1225.8" fill="none" stroke="#a9a775" stroke-width="1.6" stroke-linejoin="round" stroke-linecap="round"/><polyline points="2265.8,1151.4 2270.6,1152.8 2270.6,1225.8" fill="none" stroke="#a9a775" stroke-width="1.6" stroke-linejoin="round" stroke-linecap="round"/><polyline points="2320.8,1154.6 2318.8,1226.0" fill="none" stroke="#a9a775" stroke-width="1.6" stroke-linejoin="round" stroke-linecap="round"/><polyline points="2264.9,1113.0 2264.9,1151.6 2271.0,1152.6" fill="none" stroke="#a9a775" stroke-width="1.6" stroke-linejoin="round" stroke-linecap="round"/><polyline points="2433.1,1020.0 2434.5,1096.3" fill="none" stroke="#a9a775" stroke-width="1.6" stroke-linejoin="round" stroke-linecap="round"/><polyline points="2183.8,1046.9 2264.9,1046.9" fill="none" stroke="#a9a775" stroke-width="1.6" stroke-linejoin="round" stroke-linecap="round"/><polyline points="2264.9,1020.0 2264.9,1046.9" fill="none" stroke="#a9a775" stroke-width="1.6" stroke-linejoin="round" stroke-linecap="round"/><polygon points="1976.4,266.7 2079.5,266.7 2080.1,299.9 2083.4,301.6 2083.4,382.4 2003.6,382.4 2001.3,359.8 1999.7,350.4 1980.4,349.8 1980.4,299.2 1976.4,298.2" fill="#49663c" stroke="#3d5732" stroke-width="1.6" stroke-linejoin="round"/><polygon points="2003.6,382.4 2083.4,382.4 2084.4,455.5 2032.9,455.5 2027.9,452.2 2024.6,446.2 2016.3,441.2 2012.3,436.2 2013.6,419.6 2009.6,406.3 2004.6,394.7" fill="#7a8934" stroke="#6b7a2c" stroke-width="1.6" stroke-linejoin="round"/><polygon points="2032.9,455.5 2085.4,456.2 2085.4,524.3 1993.0,524.3 1993.0,519.4 1999.7,512.7 2003.0,502.7 2009.6,492.8 2017.9,481.1 2026.3,477.8 2034.6,474.5 2029.6,469.5 2026.3,467.8 2031.2,461.2" fill="#3a4130" stroke="#2b3124" stroke-width="1.6" stroke-linejoin="round"/><polygon points="1993.0,524.3 2085.4,525.0 2085.4,613.1 2072.8,609.8 2059.5,605.8 2047.9,599.8 2039.6,590.8 2032.9,580.9 2029.6,572.6 2030.2,560.9 2022.9,552.6 2016.3,546.0 2008.0,536.0 1999.7,529.3" fill="#49663c" stroke="#3d5732" stroke-width="1.6" stroke-linejoin="round"/><polygon points="2085.4,542.6 2155.9,542.6 2155.9,599.2 2162.6,600.8 2174.2,609.1 2173.0,686.5 2083.3,684.9 2083.4,619.1" fill="#3a4130" stroke="#2b3124" stroke-width="1.6" stroke-linejoin="round"/><polygon points="2079.5,266.7 2152.6,266.7 2154.3,299.9 2155.3,321.5 2155.3,404.6 2155.9,405.3 2156.6,473.8 2156.6,542.6 2085.4,542.6 2086.1,473.8 2085.4,404.6 2084.8,321.5 2083.4,301.6 2080.1,299.9" fill="#7a8934" stroke="#6b7a2c" stroke-width="1.6" stroke-linejoin="round"/><polygon points="2234.9,266.7 2308.1,266.7 2309.1,301.6 2310.4,421.3 2239.2,422.3 2237.2,349.8 2235.9,301.6" fill="#7a8934" stroke="#6b7a2c" stroke-width="1.6" stroke-linejoin="round"/><polygon points="2427.8,265.0 2466.0,265.0 2466.0,329.8 2434.4,330.5 2433.4,319.9 2431.1,309.9 2432.8,299.9 2429.4,289.9 2428.8,280.0 2427.8,272.6" fill="#49663c" stroke="#3d5732" stroke-width="1.6" stroke-linejoin="round"/><polygon points="2402.8,331.5 2466.0,330.8 2466.0,506.1 2432.8,506.1 2432.1,485.4 2402.2,483.4 2326.4,484.4 2311.4,482.8 2310.4,405.3 2402.8,404.6" fill="#7a8934" stroke="#6b7a2c" stroke-width="1.6" stroke-linejoin="round"/><polygon points="2083.3,684.9 2173.1,687.2 2172.4,728.1 2174.1,749.7 2183.0,751.3 2182.4,777.9 2159.1,777.9 2142.5,774.6 2083.3,772.3" fill="#7a8934" stroke="#6b7a2c" stroke-width="1.6" stroke-linejoin="round"/><polygon points="2367.0,655.3 2387.8,634.5 2391.5,643.2 2398.2,649.9 2404.8,654.0 2414.8,656.1 2423.1,653.6 2427.3,653.2 2431.4,654.9 2443.9,655.7 2454.7,656.5 2461.4,634.9 2470.0,630.0 2470.0,799.7 2432.8,799.7 2431.1,829.6 2419.5,836.3 2389.5,836.3 2386.2,831.3 2377.9,836.3 2372.9,829.6 2364.6,821.3 2364.6,721.5" fill="#7a8934" stroke="#6b7a2c" stroke-width="1.6" stroke-linejoin="round"/><polygon points="2185.9,832.3 2285.7,835.6 2283.8,921.1 2229.9,919.4 2229.2,906.1 2184.0,904.5" fill="#f9f3d4" stroke="#dcd6b8" stroke-width="1.6" stroke-linejoin="round"/><polygon points="2285.7,866.2 2363.6,868.9 2362.9,903.5 2343.0,904.5 2341.3,926.8 2272.4,925.1 2273.1,902.8 2283.8,902.8" fill="#f9f3d4" stroke="#dcd6b8" stroke-width="1.6" stroke-linejoin="round"/><polygon points="2181.6,904.5 2229.2,906.1 2229.9,919.4 2261.5,921.1 2265.8,941.1 2264.8,980.0 2180.6,978.7" fill="#7a8934" stroke="#6b7a2c" stroke-width="1.6" stroke-linejoin="round"/><polygon points="2081.2,1029.9 2178.7,1031.9 2183.8,1046.9 2183.0,1099.1 2081.2,1097.7" fill="#7a8934" stroke="#6b7a2c" stroke-width="1.6" stroke-linejoin="round"/><polygon points="2264.8,1013.3 2362.3,1017.7 2363.8,1051.1 2363.8,1090.1 2266.3,1089.2" fill="#49663c" stroke="#3d5732" stroke-width="1.6" stroke-linejoin="round"/><polygon points="2265.8,1089.2 2394.9,1092.1 2393.5,1155.1 2314.4,1153.4 2313.8,1113.8 2265.8,1112.7" fill="#7a8934" stroke="#6b7a2c" stroke-width="1.6" stroke-linejoin="round"/><polygon points="2394.9,1096.3 2467.0,1095.7 2467.0,1229.2 2419.0,1229.2 2419.5,1155.7 2393.5,1155.1" fill="#f9f3d4" stroke="#dcd6b8" stroke-width="1.6" stroke-linejoin="round"/><polyline points="2084.8,321.5 2155.3,321.5" fill="none" stroke="#6b7a2c" stroke-width="1.6" stroke-linejoin="round" stroke-linecap="round"/><polyline points="2085.4,404.6 2155.9,405.3" fill="none" stroke="#6b7a2c" stroke-width="1.6" stroke-linejoin="round" stroke-linecap="round"/><polyline points="2086.1,473.8 2156.6,473.8" fill="none" stroke="#6b7a2c" stroke-width="1.6" stroke-linejoin="round" stroke-linecap="round"/><polyline points="2237.2,349.8 2309.7,349.8" fill="none" stroke="#6b7a2c" stroke-width="1.6" stroke-linejoin="round" stroke-linecap="round"/><polyline points="2402.8,404.6 2466.0,404.6" fill="none" stroke="#6b7a2c" stroke-width="1.6" stroke-linejoin="round" stroke-linecap="round"/><polyline points="2403.5,404.6 2402.2,483.4" fill="none" stroke="#6b7a2c" stroke-width="1.6" stroke-linejoin="round" stroke-linecap="round"/><polyline points="2366.7,721.5 2462.0,723.4" fill="none" stroke="#6b7a2c" stroke-width="1.6" stroke-linejoin="round" stroke-linecap="round"/><polyline points="2406.0,723.4 2406.0,744.0 2430.0,753.0" fill="none" stroke="#6b7a2c" stroke-width="1.6" stroke-linejoin="round" stroke-linecap="round"/><polyline points="2449.0,721.5 2462.0,686.0" fill="none" stroke="#6b7a2c" stroke-width="1.6" stroke-linejoin="round" stroke-linecap="round"/><polyline points="2083.4,619.1 2092.8,617.4 2109.4,615.8 2119.4,607.5 2126.0,609.1 2132.7,602.5 2139.3,595.8 2149.3,594.2 2155.9,599.2 2162.6,600.8 2174.2,609.1" fill="none" stroke="#262c1f" stroke-width="1.6" stroke-linejoin="round" stroke-linecap="round"/><polyline points="2419.5,1155.6 2462.0,1156.2" fill="none" stroke="#dcd6b8" stroke-width="1.6" stroke-linejoin="round" stroke-linecap="round"/></g><polygon points="1871.6,274.0 2100.0,273.2 2300.0,272.3 2462.0,271.5 2470.0,270.6 2606.0,266.6 2614.5,276.6 2626.2,286.6 2636.1,296.5 2644.4,308.2 2652.8,319.8 2662.7,323.1 2656.1,333.1 2651.1,349.7 2649.4,373.0 2652.8,399.6 2661.1,424.5 2659.4,436.1 2667.7,449.4 2672.7,466.0 2677.7,479.3 2686.0,487.6 2707.6,507.6 2715.9,515.9 2725.9,529.2 2735.8,542.5 2749.1,555.7 2765.7,565.7 2779.0,579.0 2790.7,595.6 2791.6,596.6 2793.2,613.2 2796.6,626.5 2793.2,639.8 2799.9,663.0 2809.9,676.3 2819.8,678.0 2829.8,666.3 2839.8,658.0 2853.1,659.7 2869.7,664.7 2886.3,674.7 2901.2,684.6 2902.9,691.3 2892.9,699.6 2887.9,706.2 2886.3,716.2 2889.6,729.5 2886.3,741.1 2879.6,752.8 2874.7,762.7 2869.7,779.3 2861.4,789.3 2856.4,799.3 2856.4,819.2 2863.0,839.2 2876.3,852.5 2892.9,865.7 2909.6,877.4 2926.2,885.7 2936.1,890.7 2929.5,899.0 2932.8,909.0 2946.1,905.6 2966.0,915.6 2986.0,925.6 3005.9,935.5 3015.9,945.5 3019.2,958.8 3012.6,959.9 3017.6,973.2 3012.6,993.2 3022.5,1006.5 3027.5,1021.4 3015.9,1039.7 3017.6,1054.7 3022.5,1069.6 3034.2,1086.2 3035.8,1102.8 3045.8,1109.5 3052.5,1096.2 3059.1,1097.9 3065.7,1106.2 3072.4,1112.8 3084.0,1116.1 3085.7,1129.4 3079.0,1146.0 3075.7,1156.0 3082.4,1162.7 3079.0,1169.3 3074.1,1179.3 3074.1,1192.6 3065.7,1202.5 3059.1,1209.2 3052.5,1205.9 3045.8,1195.9 3035.8,1199.2 3025.9,1209.2 3015.9,1232.5 3005.9,1229.1 3009.3,1239.1 3012.6,1252.4 3005.9,1259.0 2999.3,1265.7 3005.9,1279.0 2992.6,1282.3 2986.0,1289.0 2996.0,1305.6 2992.6,1315.5 2979.3,1322.2 2972.7,1338.8 2856.4,1338.8 2869.7,1315.5 2876.3,1302.2 2883.0,1295.6 2892.9,1289.0 2906.2,1272.3 2909.6,1255.7 2902.9,1245.7 2892.9,1229.1 2884.6,1225.1 2700.0,1225.5 2400.0,1225.8 2200.0,1226.0 2081.5,1226.0 2082.5,900.0 2083.4,640.0 2086.1,619.1 2084.4,614.1 2079.5,612.5 2072.8,609.1 2059.5,605.8 2049.5,600.8 2042.9,595.8 2036.2,585.9 2029.6,575.9 2029.6,565.9 2027.9,559.3 2022.9,552.6 2016.3,546.0 2009.6,537.6 1999.7,527.7 1993.0,521.0 1994.7,514.4 2001.3,507.7 2003.0,499.4 2009.6,489.4 2016.3,479.5 2022.9,477.8 2031.2,475.5 2026.3,472.8 2026.3,467.8 2032.9,462.8 2032.9,456.2 2027.9,452.9 2024.6,449.5 2022.9,441.2 2013.0,439.6 2006.3,444.5 1996.3,444.5 1986.4,439.6 1976.4,431.2 1969.7,422.9 1959.8,416.3 1954.8,406.3 1948.1,399.7 1939.8,393.0 1939.8,384.7 1934.8,381.4 1931.5,373.1 1926.5,366.4 1924.8,356.4 1918.2,353.1 1913.2,348.1 1904.9,341.5 1896.6,336.5 1893.3,326.5 1891.6,316.5 1893.3,306.6 1889.9,296.6 1891.6,286.6 1886.6,284.9 1880.0,288.3 1872.6,283.3 1871.6,274.0" fill="none" stroke="#8f8e60" stroke-width="1.4" stroke-linejoin="round"/></g>
<g clip-path="url(#rh)"><g clip-path="url(#mo)"><polygon points="1871.6,274.0 2100.0,273.2 2300.0,272.3 2462.0,271.5 2470.0,270.6 2606.0,266.6 2614.5,276.6 2626.2,286.6 2636.1,296.5 2644.4,308.2 2652.8,319.8 2662.7,323.1 2656.1,333.1 2651.1,349.7 2649.4,373.0 2652.8,399.6 2661.1,424.5 2659.4,436.1 2667.7,449.4 2672.7,466.0 2677.7,479.3 2686.0,487.6 2707.6,507.6 2715.9,515.9 2725.9,529.2 2735.8,542.5 2749.1,555.7 2765.7,565.7 2779.0,579.0 2790.7,595.6 2791.6,596.6 2793.2,613.2 2796.6,626.5 2793.2,639.8 2799.9,663.0 2809.9,676.3 2819.8,678.0 2829.8,666.3 2839.8,658.0 2853.1,659.7 2869.7,664.7 2886.3,674.7 2901.2,684.6 2902.9,691.3 2892.9,699.6 2887.9,706.2 2886.3,716.2 2889.6,729.5 2886.3,741.1 2879.6,752.8 2874.7,762.7 2869.7,779.3 2861.4,789.3 2856.4,799.3 2856.4,819.2 2863.0,839.2 2876.3,852.5 2892.9,865.7 2909.6,877.4 2926.2,885.7 2936.1,890.7 2929.5,899.0 2932.8,909.0 2946.1,905.6 2966.0,915.6 2986.0,925.6 3005.9,935.5 3015.9,945.5 3019.2,958.8 3012.6,959.9 3017.6,973.2 3012.6,993.2 3022.5,1006.5 3027.5,1021.4 3015.9,1039.7 3017.6,1054.7 3022.5,1069.6 3034.2,1086.2 3035.8,1102.8 3045.8,1109.5 3052.5,1096.2 3059.1,1097.9 3065.7,1106.2 3072.4,1112.8 3084.0,1116.1 3085.7,1129.4 3079.0,1146.0 3075.7,1156.0 3082.4,1162.7 3079.0,1169.3 3074.1,1179.3 3074.1,1192.6 3065.7,1202.5 3059.1,1209.2 3052.5,1205.9 3045.8,1195.9 3035.8,1199.2 3025.9,1209.2 3015.9,1232.5 3005.9,1229.1 3009.3,1239.1 3012.6,1252.4 3005.9,1259.0 2999.3,1265.7 3005.9,1279.0 2992.6,1282.3 2986.0,1289.0 2996.0,1305.6 2992.6,1315.5 2979.3,1322.2 2972.7,1338.8 2856.4,1338.8 2869.7,1315.5 2876.3,1302.2 2883.0,1295.6 2892.9,1289.0 2906.2,1272.3 2909.6,1255.7 2902.9,1245.7 2892.9,1229.1 2884.6,1225.1 2700.0,1225.5 2400.0,1225.8 2200.0,1226.0 2081.5,1226.0 2082.5,900.0 2083.4,640.0 2086.1,619.1 2084.4,614.1 2079.5,612.5 2072.8,609.1 2059.5,605.8 2049.5,600.8 2042.9,595.8 2036.2,585.9 2029.6,575.9 2029.6,565.9 2027.9,559.3 2022.9,552.6 2016.3,546.0 2009.6,537.6 1999.7,527.7 1993.0,521.0 1994.7,514.4 2001.3,507.7 2003.0,499.4 2009.6,489.4 2016.3,479.5 2022.9,477.8 2031.2,475.5 2026.3,472.8 2026.3,467.8 2032.9,462.8 2032.9,456.2 2027.9,452.9 2024.6,449.5 2022.9,441.2 2013.0,439.6 2006.3,444.5 1996.3,444.5 1986.4,439.6 1976.4,431.2 1969.7,422.9 1959.8,416.3 1954.8,406.3 1948.1,399.7 1939.8,393.0 1939.8,384.7 1934.8,381.4 1931.5,373.1 1926.5,366.4 1924.8,356.4 1918.2,353.1 1913.2,348.1 1904.9,341.5 1896.6,336.5 1893.3,326.5 1891.6,316.5 1893.3,306.6 1889.9,296.6 1891.6,286.6 1886.6,284.9 1880.0,288.3 1872.6,283.3 1871.6,274.0" fill="#b4aabc"/><polygon points="2494.9,260.0 2568.0,260.0 2567.0,342.4 2495.9,341.4" fill="#7f87aa" stroke="#6f7799" stroke-width="1.6" stroke-linejoin="round"/><polygon points="2568.0,260.0 2606.2,260.0 2606.2,266.6 2614.5,276.6 2626.2,286.6 2636.1,296.5 2644.4,308.2 2652.8,319.8 2662.7,323.1 2656.1,333.1 2651.1,349.7 2649.4,373.0 2652.8,399.6 2661.1,424.5 2587.9,425.5 2495.9,423.5 2495.9,341.4 2567.0,342.4" fill="#f5ecea" stroke="#ddd2c4" stroke-width="1.6" stroke-linejoin="round"/><polygon points="2460.0,330.4 2494.9,329.8 2495.9,341.4 2495.9,423.5 2505.9,424.5 2503.9,505.9 2460.0,506.6" fill="#7f87aa" stroke="#6f7799" stroke-width="1.6" stroke-linejoin="round"/><polygon points="2587.9,426.1 2661.1,424.5 2659.4,436.1 2667.7,449.4 2672.7,466.0 2677.7,479.3 2686.0,487.6 2609.6,487.6 2609.6,492.6 2587.0,492.6" fill="#7f87aa" stroke="#6f7799" stroke-width="1.6" stroke-linejoin="round"/><polygon points="2610.2,487.6 2686.0,487.6 2707.6,507.6 2657.7,543.1 2660.4,574.0 2609.6,572.4" fill="#232c4e" stroke="#1a2240" stroke-width="1.6" stroke-linejoin="round"/><polygon points="2657.7,543.1 2707.6,507.6 2715.9,515.9 2725.9,529.2 2735.8,542.5 2749.1,555.7 2765.7,565.7 2779.0,579.0 2790.7,595.6 2707.6,596.3 2706.6,615.6 2666.0,615.6 2660.4,574.0" fill="#7f87aa" stroke="#6f7799" stroke-width="1.6" stroke-linejoin="round"/><polygon points="2460.0,612.2 2479.9,590.6 2539.8,592.3 2539.5,630.0 2533.1,649.9 2531.5,673.2 2533.1,696.5 2519.8,716.4 2523.1,739.7 2546.4,751.3 2556.4,753.0 2554.7,766.3 2539.8,772.9 2528.1,772.9 2536.4,786.2 2524.8,794.5 2523.1,804.5 2460.0,802.8" fill="#7f87aa" stroke="#6f7799" stroke-width="1.6" stroke-linejoin="round"/><polygon points="2538.1,634.0 2625.5,635.0 2623.5,719.1 2612.9,718.1 2599.6,721.4 2586.3,726.4 2576.3,736.3 2566.3,744.7 2556.4,749.6 2546.4,752.3 2533.1,748.0 2521.5,736.3 2519.8,716.4 2531.5,696.5 2529.8,673.2 2533.8,649.9" fill="#232c4e" stroke="#1a2240" stroke-width="1.6" stroke-linejoin="round"/><polygon points="2553.1,753.0 2566.3,744.7 2586.3,726.4 2599.6,721.4 2612.9,718.1 2623.5,719.1 2641.1,724.7 2651.1,717.1 2672.7,718.1 2674.4,833.4 2644.4,834.4 2643.4,846.0 2624.5,846.0 2625.5,869.3 2569.7,870.9 2565.7,879.3 2524.8,878.6 2523.1,814.4 2523.1,802.8 2531.5,792.8 2536.4,786.2 2529.8,774.6 2539.8,772.9 2554.7,766.3" fill="#f5ecea" stroke="#ddd2c4" stroke-width="1.6" stroke-linejoin="round"/><polygon points="2460.0,875.9 2484.9,876.6 2483.9,915.8 2473.3,922.5 2460.0,919.1" fill="#7f87aa" stroke="#6f7799" stroke-width="1.6" stroke-linejoin="round"/><polygon points="2722.5,836.0 2780.7,834.4 2800.0,859.3 2800.0,942.4 2722.5,940.7" fill="#f5ecea" stroke="#ddd2c4" stroke-width="1.6" stroke-linejoin="round"/><polygon points="2592.9,930.8 2684.3,930.8 2685.3,950.7 2712.6,951.7 2712.6,975.6 2684.3,976.3 2685.3,995.6 2701.9,996.6 2701.9,1015.5 2622.8,1015.5 2603.6,1014.8 2602.9,974.0 2592.9,973.0" fill="#f5ecea" stroke="#ddd2c4" stroke-width="1.6" stroke-linejoin="round"/><polygon points="2513.2,973.0 2602.9,974.0 2603.6,1032.1 2513.2,1032.1" fill="#f5ecea" stroke="#ddd2c4" stroke-width="1.6" stroke-linejoin="round"/><polygon points="2622.8,1015.5 2708.6,1016.5 2708.6,1032.1 2622.8,1032.1" fill="#f5ecea" stroke="#ddd2c4" stroke-width="1.6" stroke-linejoin="round"/><polygon points="2684.3,976.3 2782.4,974.0 2784.0,1032.1 2708.6,1032.1 2701.9,1015.5 2701.9,996.6 2685.3,995.6" fill="#f5ecea" stroke="#ddd2c4" stroke-width="1.6" stroke-linejoin="round"/><polygon points="2460.0,1002.9 2511.5,1003.9 2511.5,1032.1 2460.0,1032.1" fill="#f5ecea" stroke="#ddd2c4" stroke-width="1.6" stroke-linejoin="round"/><polygon points="2460.0,1000.0 2800.0,1000.0 2800.0,1232.6 2460.0,1232.6" fill="#f5ecea"/><polygon points="2543.1,1099.7 2620.2,1100.7 2618.9,1159.5 2617.2,1229.3 2538.1,1229.3 2539.8,1157.9 2541.4,1099.7" fill="#b4aabc" stroke="#9d94a6" stroke-width="1.6" stroke-linejoin="round"/><polygon points="2460.0,1000.0 2511.5,1000.0 2511.5,1003.3 2460.0,1003.3" fill="#b4aabc" stroke="#9d94a6" stroke-width="1.6" stroke-linejoin="round"/><polygon points="2784.0,998.3 2825.6,998.3 2825.6,1048.2 2787.4,1048.2" fill="#b4aabc"/><polygon points="2747.7,676.3 2773.3,671.3 2779.9,668.0 2796.6,666.3 2809.9,676.3 2819.8,678.0 2829.8,666.3 2839.8,658.0 2853.1,659.7 2869.7,664.7 2886.3,674.7 2901.2,684.6 2902.9,691.3 2892.9,696.3 2886.3,692.9 2869.7,676.3 2859.7,679.6 2839.8,689.6 2826.5,706.2 2821.5,722.8 2799.9,722.8 2789.9,732.8 2779.9,739.5 2766.6,749.4 2747.7,752.8" fill="#444d7e" stroke="#39416e" stroke-width="1.6" stroke-linejoin="round"/><polygon points="2789.9,732.8 2799.9,722.8 2821.5,722.8 2826.5,706.2 2839.8,689.6 2859.7,679.6 2869.7,676.3 2886.3,692.9 2892.9,696.3 2902.9,691.3 2892.9,699.6 2887.9,706.2 2886.3,716.2 2889.6,729.5 2886.3,741.1 2879.6,752.8 2874.7,762.7 2869.7,779.3 2861.4,789.3 2859.7,772.7 2849.7,767.7 2813.2,766.0 2799.9,776.0 2789.9,769.4" fill="#232c4e" stroke="#1a2240" stroke-width="1.6" stroke-linejoin="round"/><polygon points="2789.9,769.4 2799.9,776.0 2813.2,766.0 2849.7,767.7 2859.7,772.7 2861.4,789.3 2856.4,799.3 2856.4,819.2 2863.0,839.2 2876.3,852.5 2849.7,872.4 2809.9,879.0 2806.5,862.4 2799.9,859.1 2781.6,834.2" fill="#7f87aa" stroke="#6f7799" stroke-width="1.6" stroke-linejoin="round"/><polygon points="2756.7,835.2 2781.6,834.2 2804.9,862.4 2804.9,942.2 2756.7,942.2" fill="#f5ecea"/><polygon points="2806.5,864.1 2809.9,879.0 2849.7,872.4 2863.0,887.4 2839.8,909.0 2886.3,955.5 2899.6,951.6 2902.9,956.6 2892.9,964.9 2804.9,963.9 2803.2,955.5" fill="#7f87aa" stroke="#6f7799" stroke-width="1.6" stroke-linejoin="round"/><polygon points="2756.7,973.2 2783.3,973.2 2786.6,1048.0 2823.1,1048.0 2823.1,1039.0 2896.3,1039.7 2896.3,973.2 2947.8,973.2 2947.8,1082.2 2929.5,1082.9 2922.8,1101.2 2896.3,1102.8 2892.9,1109.5 2883.0,1121.1 2878.0,1129.4 2799.9,1129.4 2803.2,1139.4 2808.2,1152.7 2813.2,1185.9 2816.5,1225.8 2756.7,1225.8" fill="#f5ecea"/><polygon points="2799.9,1129.4 2876.3,1129.4 2886.3,1159.3 2892.9,1179.3 2896.3,1195.9 2889.6,1205.9 2884.6,1225.8 2816.5,1225.8 2813.2,1185.9 2808.2,1152.7 2803.2,1139.4" fill="#b4aabc" stroke="#9d94a6" stroke-width="1.6" stroke-linejoin="round"/><polygon points="2947.8,973.2 2959.4,973.2 2992.6,974.9 3009.3,979.9 3012.6,993.2 3022.5,1006.5 3027.5,1021.4 3015.9,1039.7 3015.9,1054.7 2992.6,1059.6 2979.3,1072.9 2964.4,1082.9 2947.8,1082.2" fill="#7f87aa" stroke="#6f7799" stroke-width="1.6" stroke-linejoin="round"/><polygon points="2964.4,1091.2 2979.3,1072.9 2992.6,1059.6 3017.6,1054.7 3022.5,1069.6 3034.2,1086.2 3035.8,1102.8 3045.8,1109.5 3052.5,1096.2 3059.1,1097.9 3065.7,1106.2 3072.4,1112.8 3084.0,1116.1 3085.7,1129.4 3079.0,1146.0 3075.7,1156.0 3082.4,1162.7 3079.0,1169.3 3074.1,1179.3 3074.1,1192.6 3065.7,1202.5 3059.1,1209.2 3049.1,1202.5 3035.8,1185.9 3012.6,1146.0 3009.3,1141.1 2981.0,1141.1 2977.7,1126.1" fill="#232c4e" stroke="#1a2240" stroke-width="1.6" stroke-linejoin="round"/><polygon points="2878.0,1129.4 2883.0,1121.1 2892.9,1109.5 2896.3,1102.8 2922.8,1101.2 2929.5,1082.9 2964.4,1082.9 2964.4,1091.2 2977.7,1126.1 2979.3,1141.1 2976.0,1142.7 2976.0,1195.9 2929.5,1195.9 2896.3,1195.9 2892.9,1179.3 2886.3,1159.3" fill="#7f87aa" stroke="#6f7799" stroke-width="1.6" stroke-linejoin="round"/><polygon points="2896.3,1195.9 2929.5,1195.9 2931.2,1249.1 2931.2,1342.1 2856.4,1342.1 2869.7,1315.5 2876.3,1302.2 2883.0,1295.6 2892.9,1289.0 2906.2,1272.3 2909.6,1255.7 2902.9,1245.7 2892.9,1229.1 2884.6,1225.8 2889.6,1205.9" fill="#7f87aa" stroke="#6f7799" stroke-width="1.6" stroke-linejoin="round"/><polygon points="2976.0,1142.7 3009.3,1141.1 3045.8,1195.9 3035.8,1199.2 3025.9,1209.2 3015.9,1232.5 3005.9,1229.1 3009.3,1239.1 3012.6,1252.4 3005.9,1259.0 3002.6,1245.7 2992.6,1242.4 2972.7,1242.4 2969.4,1249.1 2931.2,1249.1 2929.5,1195.9 2976.0,1195.9" fill="#444d7e" stroke="#39416e" stroke-width="1.6" stroke-linejoin="round"/><polygon points="2931.2,1249.1 2969.4,1249.1 2972.7,1242.4 2992.6,1242.4 3005.9,1255.7 2999.3,1265.7 3005.9,1279.0 2992.6,1282.3 2986.0,1289.0 2996.0,1305.6 2992.6,1315.5 2979.3,1322.2 2972.7,1342.1 2931.2,1342.1" fill="#444d7e" stroke="#39416e" stroke-width="1.6" stroke-linejoin="round"/><polyline points="2503.9,505.9 2524.8,505.9 2524.8,493.3 2587.0,492.6" fill="none" stroke="#9d94a6" stroke-width="1.6" stroke-linejoin="round" stroke-linecap="round"/><polyline points="2501.5,589.0 2503.2,505.9" fill="none" stroke="#9d94a6" stroke-width="1.6" stroke-linejoin="round" stroke-linecap="round"/><polyline points="2503.2,567.4 2609.6,569.7" fill="none" stroke="#9d94a6" stroke-width="1.6" stroke-linejoin="round" stroke-linecap="round"/><polyline points="2626.2,613.9 2706.6,615.6" fill="none" stroke="#9d94a6" stroke-width="1.6" stroke-linejoin="round" stroke-linecap="round"/><polyline points="2626.2,613.9 2625.5,635.5" fill="none" stroke="#9d94a6" stroke-width="1.6" stroke-linejoin="round" stroke-linecap="round"/><polyline points="2692.6,615.6 2693.3,652.1" fill="none" stroke="#9d94a6" stroke-width="1.6" stroke-linejoin="round" stroke-linecap="round"/><polyline points="2692.6,630.0 2692.6,684.8 2664.4,685.8 2664.4,718.1" fill="none" stroke="#9d94a6" stroke-width="1.6" stroke-linejoin="round" stroke-linecap="round"/><polyline points="2692.6,651.6 2705.9,651.6 2705.9,663.2 2720.9,663.2 2720.9,679.2 2747.5,679.2" fill="none" stroke="#9d94a6" stroke-width="1.6" stroke-linejoin="round" stroke-linecap="round"/><polyline points="2672.7,718.1 2679.3,719.7 2692.6,726.4 2699.3,736.3 2719.2,741.3 2732.5,743.0 2745.8,753.0" fill="none" stroke="#9d94a6" stroke-width="1.6" stroke-linejoin="round" stroke-linecap="round"/><polyline points="2483.9,915.8 2483.9,947.7 2513.2,962.3 2513.2,973.0" fill="none" stroke="#9d94a6" stroke-width="1.6" stroke-linejoin="round" stroke-linecap="round"/><polyline points="2756.7,835.2 2781.6,834.2" fill="none" stroke="#9d94a6" stroke-width="1.6" stroke-linejoin="round" stroke-linecap="round"/><polyline points="2554.7,879.3 2553.1,972.3" fill="none" stroke="#9d94a6" stroke-width="1.6" stroke-linejoin="round" stroke-linecap="round"/><polyline points="2644.4,834.4 2644.4,930.8" fill="none" stroke="#9d94a6" stroke-width="1.6" stroke-linejoin="round" stroke-linecap="round"/><polyline points="2714.2,940.7 2800.0,942.4" fill="none" stroke="#9d94a6" stroke-width="1.6" stroke-linejoin="round" stroke-linecap="round"/><polyline points="2823.1,964.9 2823.1,1048.0" fill="none" stroke="#9d94a6" stroke-width="1.6" stroke-linejoin="round" stroke-linecap="round"/><polyline points="2784.0,1000.0 2787.4,1048.2 2800.0,1048.2" fill="none" stroke="#9d94a6" stroke-width="1.6" stroke-linejoin="round" stroke-linecap="round"/><polyline points="2756.7,973.2 2783.3,973.2 2786.6,1048.0 2823.1,1048.0 2823.1,1039.0 2896.3,1039.7 2896.3,973.2 2947.8,973.2" fill="none" stroke="#9d94a6" stroke-width="1.6" stroke-linejoin="round" stroke-linecap="round"/><polyline points="2839.8,909.0 2863.0,887.4" fill="none" stroke="#9d94a6" stroke-width="1.6" stroke-linejoin="round" stroke-linecap="round"/><polyline points="2932.8,909.0 2902.9,958.8" fill="none" stroke="#9d94a6" stroke-width="1.6" stroke-linejoin="round" stroke-linecap="round"/><polyline points="2567.0,342.4 2568.0,423.5" fill="none" stroke="#ddd2c4" stroke-width="1.8" stroke-linejoin="round" stroke-linecap="round"/><polyline points="2568.0,352.4 2649.4,353.7" fill="none" stroke="#ddd2c4" stroke-width="1.8" stroke-linejoin="round" stroke-linecap="round"/><polyline points="2523.1,814.4 2622.8,814.4" fill="none" stroke="#ddd2c4" stroke-width="1.8" stroke-linejoin="round" stroke-linecap="round"/><polyline points="2622.8,719.1 2622.8,846.0" fill="none" stroke="#ddd2c4" stroke-width="1.8" stroke-linejoin="round" stroke-linecap="round"/><polyline points="2592.9,930.8 2684.3,930.8 2685.3,950.7 2712.6,951.7 2712.6,975.6" fill="none" stroke="#ddd2c4" stroke-width="1.8" stroke-linejoin="round" stroke-linecap="round"/><polyline points="2602.9,974.0 2684.3,976.3" fill="none" stroke="#ddd2c4" stroke-width="1.8" stroke-linejoin="round" stroke-linecap="round"/><polyline points="2684.3,976.3 2685.3,995.6 2701.9,996.6 2701.9,1015.5" fill="none" stroke="#ddd2c4" stroke-width="1.8" stroke-linejoin="round" stroke-linecap="round"/><polyline points="2603.6,975.6 2603.6,1013.8" fill="none" stroke="#ddd2c4" stroke-width="1.8" stroke-linejoin="round" stroke-linecap="round"/><polyline points="2622.8,1015.5 2708.6,1016.5" fill="none" stroke="#ddd2c4" stroke-width="1.8" stroke-linejoin="round" stroke-linecap="round"/><polyline points="2513.2,973.0 2513.2,1032.1" fill="none" stroke="#ddd2c4" stroke-width="1.8" stroke-linejoin="round" stroke-linecap="round"/><polyline points="2470.0,1002.9 2511.5,1003.9" fill="none" stroke="#ddd2c4" stroke-width="1.8" stroke-linejoin="round" stroke-linecap="round"/><polyline points="2511.5,1000.0 2513.2,1096.4" fill="none" stroke="#ddd2c4" stroke-width="1.8" stroke-linejoin="round" stroke-linecap="round"/><polyline points="2460.0,1096.4 2541.4,1099.7" fill="none" stroke="#ddd2c4" stroke-width="1.8" stroke-linejoin="round" stroke-linecap="round"/><polyline points="2460.0,1156.9 2539.8,1157.9" fill="none" stroke="#ddd2c4" stroke-width="1.8" stroke-linejoin="round" stroke-linecap="round"/><polyline points="2622.8,1015.0 2621.2,1136.3" fill="none" stroke="#ddd2c4" stroke-width="1.8" stroke-linejoin="round" stroke-linecap="round"/><polyline points="2602.9,1013.3 2709.3,1016.0" fill="none" stroke="#ddd2c4" stroke-width="1.8" stroke-linejoin="round" stroke-linecap="round"/><polyline points="2602.9,1000.0 2602.9,1013.3" fill="none" stroke="#ddd2c4" stroke-width="1.8" stroke-linejoin="round" stroke-linecap="round"/><polyline points="2702.6,1000.0 2702.6,1016.0" fill="none" stroke="#ddd2c4" stroke-width="1.8" stroke-linejoin="round" stroke-linecap="round"/><polyline points="2709.3,1016.0 2710.9,1039.9 2715.9,1053.2 2725.9,1066.5 2735.8,1079.8 2737.5,1089.7" fill="none" stroke="#ddd2c4" stroke-width="1.8" stroke-linejoin="round" stroke-linecap="round"/><polyline points="2700.9,1091.4 2747.5,1089.7 2747.5,1099.7 2789.0,1099.7" fill="none" stroke="#ddd2c4" stroke-width="1.8" stroke-linejoin="round" stroke-linecap="round"/><polyline points="2700.9,1091.4 2699.3,1151.2 2800.0,1153.5" fill="none" stroke="#ddd2c4" stroke-width="1.8" stroke-linejoin="round" stroke-linecap="round"/><polyline points="2621.2,1136.3 2699.3,1137.9" fill="none" stroke="#ddd2c4" stroke-width="1.8" stroke-linejoin="round" stroke-linecap="round"/><polyline points="2719.2,1152.9 2717.6,1229.3" fill="none" stroke="#ddd2c4" stroke-width="1.8" stroke-linejoin="round" stroke-linecap="round"/><polyline points="2787.4,1048.2 2789.0,1099.7 2792.3,1126.3 2800.0,1127.9" fill="none" stroke="#ddd2c4" stroke-width="1.8" stroke-linejoin="round" stroke-linecap="round"/><polyline points="2760.0,1099.5 2789.9,1100.2" fill="none" stroke="#ddd2c4" stroke-width="1.8" stroke-linejoin="round" stroke-linecap="round"/><polyline points="2760.0,1152.7 2808.2,1152.7" fill="none" stroke="#ddd2c4" stroke-width="1.8" stroke-linejoin="round" stroke-linecap="round"/><polyline points="2883.0,1039.7 2881.3,1091.2 2902.9,1091.2 2902.9,1102.8" fill="none" stroke="#ddd2c4" stroke-width="1.8" stroke-linejoin="round" stroke-linecap="round"/><polyline points="2460.0,403.9 2495.9,403.9" fill="none" stroke="#6f7799" stroke-width="1.6" stroke-linejoin="round" stroke-linecap="round"/><polyline points="2889.6,702.9 2876.3,716.2 2866.3,732.8 2864.7,742.8 2869.7,752.8 2874.7,756.1 2879.6,746.1 2887.9,732.8 2889.6,719.5 2887.9,706.2" fill="none" stroke="#151b33" stroke-width="1.6" stroke-linejoin="round" stroke-linecap="round"/></g><polygon points="1871.6,274.0 2100.0,273.2 2300.0,272.3 2462.0,271.5 2470.0,270.6 2606.0,266.6 2614.5,276.6 2626.2,286.6 2636.1,296.5 2644.4,308.2 2652.8,319.8 2662.7,323.1 2656.1,333.1 2651.1,349.7 2649.4,373.0 2652.8,399.6 2661.1,424.5 2659.4,436.1 2667.7,449.4 2672.7,466.0 2677.7,479.3 2686.0,487.6 2707.6,507.6 2715.9,515.9 2725.9,529.2 2735.8,542.5 2749.1,555.7 2765.7,565.7 2779.0,579.0 2790.7,595.6 2791.6,596.6 2793.2,613.2 2796.6,626.5 2793.2,639.8 2799.9,663.0 2809.9,676.3 2819.8,678.0 2829.8,666.3 2839.8,658.0 2853.1,659.7 2869.7,664.7 2886.3,674.7 2901.2,684.6 2902.9,691.3 2892.9,699.6 2887.9,706.2 2886.3,716.2 2889.6,729.5 2886.3,741.1 2879.6,752.8 2874.7,762.7 2869.7,779.3 2861.4,789.3 2856.4,799.3 2856.4,819.2 2863.0,839.2 2876.3,852.5 2892.9,865.7 2909.6,877.4 2926.2,885.7 2936.1,890.7 2929.5,899.0 2932.8,909.0 2946.1,905.6 2966.0,915.6 2986.0,925.6 3005.9,935.5 3015.9,945.5 3019.2,958.8 3012.6,959.9 3017.6,973.2 3012.6,993.2 3022.5,1006.5 3027.5,1021.4 3015.9,1039.7 3017.6,1054.7 3022.5,1069.6 3034.2,1086.2 3035.8,1102.8 3045.8,1109.5 3052.5,1096.2 3059.1,1097.9 3065.7,1106.2 3072.4,1112.8 3084.0,1116.1 3085.7,1129.4 3079.0,1146.0 3075.7,1156.0 3082.4,1162.7 3079.0,1169.3 3074.1,1179.3 3074.1,1192.6 3065.7,1202.5 3059.1,1209.2 3052.5,1205.9 3045.8,1195.9 3035.8,1199.2 3025.9,1209.2 3015.9,1232.5 3005.9,1229.1 3009.3,1239.1 3012.6,1252.4 3005.9,1259.0 2999.3,1265.7 3005.9,1279.0 2992.6,1282.3 2986.0,1289.0 2996.0,1305.6 2992.6,1315.5 2979.3,1322.2 2972.7,1338.8 2856.4,1338.8 2869.7,1315.5 2876.3,1302.2 2883.0,1295.6 2892.9,1289.0 2906.2,1272.3 2909.6,1255.7 2902.9,1245.7 2892.9,1229.1 2884.6,1225.1 2700.0,1225.5 2400.0,1225.8 2200.0,1226.0 2081.5,1226.0 2082.5,900.0 2083.4,640.0 2086.1,619.1 2084.4,614.1 2079.5,612.5 2072.8,609.1 2059.5,605.8 2049.5,600.8 2042.9,595.8 2036.2,585.9 2029.6,575.9 2029.6,565.9 2027.9,559.3 2022.9,552.6 2016.3,546.0 2009.6,537.6 1999.7,527.7 1993.0,521.0 1994.7,514.4 2001.3,507.7 2003.0,499.4 2009.6,489.4 2016.3,479.5 2022.9,477.8 2031.2,475.5 2026.3,472.8 2026.3,467.8 2032.9,462.8 2032.9,456.2 2027.9,452.9 2024.6,449.5 2022.9,441.2 2013.0,439.6 2006.3,444.5 1996.3,444.5 1986.4,439.6 1976.4,431.2 1969.7,422.9 1959.8,416.3 1954.8,406.3 1948.1,399.7 1939.8,393.0 1939.8,384.7 1934.8,381.4 1931.5,373.1 1926.5,366.4 1924.8,356.4 1918.2,353.1 1913.2,348.1 1904.9,341.5 1896.6,336.5 1893.3,326.5 1891.6,316.5 1893.3,306.6 1889.9,296.6 1891.6,286.6 1886.6,284.9 1880.0,288.3 1872.6,283.3 1871.6,274.0" fill="none" stroke="#8d86a0" stroke-width="1.2" stroke-linejoin="round"/></g>
<circle cx="2263.7" cy="31.3" r="4.3" fill="#fff" stroke="#4a4a4a" stroke-width="1.8"/><text x="2136" y="18.8" font-size="19.5" fill="#2e2e2e" text-anchor="start" font-style="normal" font-weight="normal" textLength="127" lengthAdjust="spacing" stroke="#f8f8f6" stroke-width="3" paint-order="stroke" stroke-linejoin="round">Des Moines</text><circle cx="1842" cy="112" r="4.3" fill="#fff" stroke="#4a4a4a" stroke-width="1.8"/><text x="1753" y="112" font-size="19.5" fill="#2e2e2e" text-anchor="start" font-style="normal" font-weight="normal" textLength="77" lengthAdjust="spacing" stroke="#f8f8f6" stroke-width="3" paint-order="stroke" stroke-linejoin="round">Omaha</text><circle cx="1701" cy="220" r="4.3" fill="#fff" stroke="#4a4a4a" stroke-width="1.8"/><text x="1702" y="207" font-size="19.5" fill="#2e2e2e" text-anchor="start" font-style="normal" font-weight="normal" textLength="78" lengthAdjust="spacing" stroke="#f8f8f6" stroke-width="3" paint-order="stroke" stroke-linejoin="round">Lincoln</text><circle cx="2817.4" cy="44.2" r="4.3" fill="#fff" stroke="#4a4a4a" stroke-width="1.8"/><text x="2714" y="33" font-size="19.5" fill="#2e2e2e" text-anchor="start" font-style="normal" font-weight="normal" textLength="105" lengthAdjust="spacing" stroke="#f8f8f6" stroke-width="3" paint-order="stroke" stroke-linejoin="round">Davenport</text><circle cx="2998" cy="248" r="4.3" fill="#fff" stroke="#4a4a4a" stroke-width="1.8"/><text x="3008" y="238.4" font-size="19.5" fill="#2e2e2e" text-anchor="start" font-style="normal" font-weight="normal" textLength="70" lengthAdjust="spacing" stroke="#f8f8f6" stroke-width="3" paint-order="stroke" stroke-linejoin="round">Peoria</text><circle cx="2667.7" cy="428.5" r="4.3" fill="#fff" stroke="#4a4a4a" stroke-width="1.8"/><text x="2674" y="416" font-size="19.5" fill="#2e2e2e" text-anchor="start" font-style="normal" font-weight="normal" textLength="68" lengthAdjust="spacing" stroke="#f8f8f6" stroke-width="3" paint-order="stroke" stroke-linejoin="round">Quincy</text><circle cx="2987.8" cy="459.8" r="4.3" fill="#fff" stroke="#4a4a4a" stroke-width="1.8"/><text x="2960" y="449" font-size="19.5" fill="#2e2e2e" text-anchor="start" font-style="normal" font-weight="normal" textLength="116" lengthAdjust="spacing" stroke="#f8f8f6" stroke-width="3" paint-order="stroke" stroke-linejoin="round">Springfield</text><circle cx="3113.5" cy="449.8" r="4.3" fill="#fff" stroke="#4a4a4a" stroke-width="1.8"/><text x="3122.5" y="441" font-size="19.5" fill="#2e2e2e" text-anchor="start" font-style="normal" font-weight="normal" textLength="88" lengthAdjust="spacing" stroke="#f8f8f6" stroke-width="3" paint-order="stroke" stroke-linejoin="round">Decatur</text><circle cx="1728" cy="608" r="4.3" fill="#fff" stroke="#4a4a4a" stroke-width="1.8"/><text x="1731" y="594.6" font-size="19.5" fill="#2e2e2e" text-anchor="start" font-style="normal" font-weight="normal" textLength="106" lengthAdjust="spacing" stroke="#f8f8f6" stroke-width="3" paint-order="stroke" stroke-linejoin="round">Manhattan</text><circle cx="1889.8" cy="637" r="4.3" fill="#fff" stroke="#4a4a4a" stroke-width="1.8"/><text x="1859" y="660" font-size="19.5" fill="#2e2e2e" text-anchor="start" font-style="normal" font-weight="normal" textLength="76" lengthAdjust="spacing" stroke="#f8f8f6" stroke-width="3" paint-order="stroke" stroke-linejoin="round">Topeka</text><circle cx="1970" cy="656" r="4.3" fill="#fff" stroke="#4a4a4a" stroke-width="1.8"/><text x="1976" y="644.5" font-size="19.5" fill="#2e2e2e" text-anchor="start" font-style="normal" font-weight="normal" textLength="97" lengthAdjust="spacing" stroke="#f8f8f6" stroke-width="3" paint-order="stroke" stroke-linejoin="round">Lawrence</text><text x="1596" y="942" font-size="19.5" fill="#2e2e2e" text-anchor="start" font-style="normal" font-weight="normal" textLength="71" lengthAdjust="spacing" stroke="#f8f8f6" stroke-width="3" paint-order="stroke" stroke-linejoin="round">Wichita</text><circle cx="1638" cy="1312" r="4.3" fill="#fff" stroke="#4a4a4a" stroke-width="1.8"/><text x="1640" y="1301" font-size="19.5" fill="#2e2e2e" text-anchor="start" font-style="normal" font-weight="normal" textLength="93" lengthAdjust="spacing" stroke="#f8f8f6" stroke-width="3" paint-order="stroke" stroke-linejoin="round">Stillwater</text><circle cx="1831.6" cy="1304.3" r="4.3" fill="#fff" stroke="#4a4a4a" stroke-width="1.8"/><text x="1833" y="1293" font-size="19.5" fill="#2e2e2e" text-anchor="start" font-style="normal" font-weight="normal" textLength="57" lengthAdjust="spacing" stroke="#f8f8f6" stroke-width="3" paint-order="stroke" stroke-linejoin="round">Tulsa</text><circle cx="2171.7" cy="1262" r="4.3" fill="#fff" stroke="#4a4a4a" stroke-width="1.8"/><text x="2182" y="1255.7" font-size="19.5" fill="#2e2e2e" text-anchor="start" font-style="normal" font-weight="normal" textLength="71" lengthAdjust="spacing" stroke="#f8f8f6" stroke-width="3" paint-order="stroke" stroke-linejoin="round">Rogers</text><circle cx="2171.7" cy="1295.5" r="4.3" fill="#fff" stroke="#4a4a4a" stroke-width="1.8"/><text x="2182" y="1290.7" font-size="19.5" fill="#2e2e2e" text-anchor="start" font-style="normal" font-weight="normal" textLength="112" lengthAdjust="spacing" stroke="#f8f8f6" stroke-width="3" paint-order="stroke" stroke-linejoin="round">Springdale</text><circle cx="2165" cy="1323.5" r="4.3" fill="#fff" stroke="#4a4a4a" stroke-width="1.8"/><text x="2177" y="1334" font-size="19.5" fill="#2e2e2e" text-anchor="start" font-style="normal" font-weight="normal" textLength="119" lengthAdjust="spacing" stroke="#f8f8f6" stroke-width="3" paint-order="stroke" stroke-linejoin="round">Fayetteville</text><circle cx="2117.6" cy="1475" r="4.3" fill="#fff" stroke="#4a4a4a" stroke-width="1.8"/><text x="2124" y="1464" font-size="19.5" fill="#2e2e2e" text-anchor="start" font-style="normal" font-weight="normal" textLength="105" lengthAdjust="spacing" stroke="#f8f8f6" stroke-width="3" paint-order="stroke" stroke-linejoin="round">Fort Smith</text><circle cx="2794" cy="1375" r="4.3" fill="#fff" stroke="#4a4a4a" stroke-width="1.8"/><text x="2809" y="1381" font-size="19.5" fill="#2e2e2e" text-anchor="start" font-style="normal" font-weight="normal" textLength="91" lengthAdjust="spacing" stroke="#f8f8f6" stroke-width="3" paint-order="stroke" stroke-linejoin="round">Jonesboro</text><text x="3021" y="1014" font-size="19.5" fill="#2e2e2e" text-anchor="start" font-style="normal" font-weight="normal" textLength="51" lengthAdjust="spacing" stroke="#f8f8f6" stroke-width="3" paint-order="stroke" stroke-linejoin="round">Cape</text><text x="3021" y="1036" font-size="19.5" fill="#2e2e2e" text-anchor="start" font-style="normal" font-weight="normal" textLength="98" lengthAdjust="spacing" stroke="#f8f8f6" stroke-width="3" paint-order="stroke" stroke-linejoin="round">Girardeau</text><circle cx="3138" cy="1424.4" r="4.3" fill="#fff" stroke="#4a4a4a" stroke-width="1.8"/><text x="3138.7" y="1412.6" font-size="19.5" fill="#2e2e2e" text-anchor="start" font-style="normal" font-weight="normal" textLength="80" lengthAdjust="spacing" stroke="#f8f8f6" stroke-width="3" paint-order="stroke" stroke-linejoin="round">Jackson</text><text x="1578" y="1423" font-size="19.5" fill="#2e2e2e" text-anchor="start" font-style="normal" font-weight="normal" textLength="85" lengthAdjust="spacing" stroke="#f8f8f6" stroke-width="3" paint-order="stroke" stroke-linejoin="round">Oklahoma</text><text x="2267" y="235" font-size="21" fill="#8c8492" text-anchor="start" font-style="normal" font-weight="normal" textLength="60" lengthAdjust="spacing" stroke="#f8f8f6" stroke-width="3" paint-order="stroke" stroke-linejoin="round">IOWA</text><text x="2785" y="108.3" font-size="21" fill="#8c8492" text-anchor="start" font-style="normal" font-weight="normal" textLength="100" lengthAdjust="spacing" stroke="#f8f8f6" stroke-width="3" paint-order="stroke" stroke-linejoin="round">ILLINOIS</text><text x="2768" y="444" font-size="21" fill="#8c8492" text-anchor="start" font-style="normal" font-weight="normal" textLength="100" lengthAdjust="spacing" stroke="#f8f8f6" stroke-width="3" paint-order="stroke" stroke-linejoin="round">ILLINOIS</text><text x="3091" y="590.4" font-size="21" fill="#8c8492" text-anchor="start" font-style="normal" font-weight="normal" textLength="100" lengthAdjust="spacing" stroke="#f8f8f6" stroke-width="3" paint-order="stroke" stroke-linejoin="round">ILLINOIS</text><text x="3089" y="6" font-size="21" fill="#8c8492" text-anchor="start" font-style="normal" font-weight="normal" textLength="100" lengthAdjust="spacing" stroke="#f8f8f6" stroke-width="3" paint-order="stroke" stroke-linejoin="round">ILLINOIS</text><text x="1700" y="1485.5" font-size="21" fill="#857d8c" text-anchor="end" font-style="normal" font-weight="normal" letter-spacing="1.5">OKLAHOMA</text><text x="1699" y="760" font-size="19" fill="#6e6e6e" text-anchor="start" font-style="italic" font-weight="normal" textLength="233" lengthAdjust="spacing" stroke="#f8f8f6" stroke-width="3" paint-order="stroke" stroke-linejoin="round">FLINT HILLS</text><text x="1757" y="1168.5" font-size="16.5" fill="#5e5e5e" text-anchor="middle" font-style="normal" font-weight="normal" letter-spacing="1.2" stroke="#f8f8f6" stroke-width="3" paint-order="stroke" stroke-linejoin="round">Osage</text><text x="1757" y="1190" font-size="16.5" fill="#5e5e5e" text-anchor="middle" font-style="normal" font-weight="normal" letter-spacing="1.2" stroke="#f8f8f6" stroke-width="3" paint-order="stroke" stroke-linejoin="round">Reservation</text><text x="2309" y="1382.4" font-size="16.5" fill="#5e5e5e" text-anchor="middle" font-style="normal" font-weight="normal" letter-spacing="1.2" stroke="#f8f8f6" stroke-width="3" paint-order="stroke" stroke-linejoin="round">Ozark</text><text x="2309" y="1400.5" font-size="16.5" fill="#5e5e5e" text-anchor="middle" font-style="normal" font-weight="normal" letter-spacing="0.5" stroke="#f8f8f6" stroke-width="3" paint-order="stroke" stroke-linejoin="round">National</text><text x="2309" y="1416.5" font-size="16.5" fill="#5e5e5e" text-anchor="middle" font-style="normal" font-weight="normal" letter-spacing="0.8" stroke="#f8f8f6" stroke-width="3" paint-order="stroke" stroke-linejoin="round">Forest</text><text x="3161" y="978" font-size="16.5" fill="#5e5e5e" text-anchor="start" font-style="normal" font-weight="normal" stroke="#f8f8f6" stroke-width="3" paint-order="stroke" stroke-linejoin="round">Shawnee</text><text x="3161" y="996" font-size="16.5" fill="#5e5e5e" text-anchor="start" font-style="normal" font-weight="normal" stroke="#f8f8f6" stroke-width="3" paint-order="stroke" stroke-linejoin="round">National</text><text x="3165" y="1013" font-size="16.5" fill="#5e5e5e" text-anchor="start" font-style="normal" font-weight="normal" stroke="#f8f8f6" stroke-width="3" paint-order="stroke" stroke-linejoin="round">Forest</text><text x="1657" y="1370" font-size="16.5" fill="#5e5e5e" text-anchor="end" font-style="normal" font-weight="normal" stroke="#f8f8f6" stroke-width="3" paint-order="stroke" stroke-linejoin="round">owa</text><text x="1657" y="1391" font-size="16.5" fill="#5e5e5e" text-anchor="end" font-style="normal" font-weight="normal" stroke="#f8f8f6" stroke-width="3" paint-order="stroke" stroke-linejoin="round">Otsa</text><text x="1666" y="56" font-size="17" fill="#6f95b5" text-anchor="start" font-style="italic" font-weight="normal" textLength="51" lengthAdjust="spacing" stroke="#f8f8f6" stroke-width="3" paint-order="stroke" stroke-linejoin="round">Platte</text><text x="1860.5" y="622" font-size="17" fill="#6f95b5" text-anchor="start" font-style="italic" font-weight="normal" textLength="68" lengthAdjust="spacing" stroke="#f8f8f6" stroke-width="3" paint-order="stroke" stroke-linejoin="round">Kansas</text><text x="3079.5" y="84.6" font-size="17" fill="#6f95b5" text-anchor="start" font-style="italic" font-weight="normal" textLength="58" lengthAdjust="spacing" stroke="#f8f8f6" stroke-width="3" paint-order="stroke" stroke-linejoin="round">Illinois</text><text x="2334" y="56" font-size="17.5" fill="#6f95b5" text-anchor="middle" font-style="italic" font-weight="normal" letter-spacing="2" transform="rotate(28 2334 56)" stroke="#f8f8f6" stroke-width="3" paint-order="stroke" stroke-linejoin="round">Des Moines</text><text x="2582" y="238" font-size="17.5" fill="#6f95b5" text-anchor="middle" font-style="italic" font-weight="normal" letter-spacing="2" transform="rotate(40 2582 238)" stroke="#f8f8f6" stroke-width="3" paint-order="stroke" stroke-linejoin="round">Des Moines</text><text x="2956" y="274" font-size="17" fill="#6f95b5" text-anchor="middle" font-style="italic" font-weight="normal" letter-spacing="1.5" transform="rotate(-28 2956 274)" stroke="#f8f8f6" stroke-width="3" paint-order="stroke" stroke-linejoin="round">Illinois</text><text x="2845" y="386" font-size="17" fill="#6f95b5" text-anchor="middle" font-style="italic" font-weight="normal" letter-spacing="1.5" transform="rotate(-48 2845 386)" stroke="#f8f8f6" stroke-width="3" paint-order="stroke" stroke-linejoin="round">Illinois</text><text x="2861.5" y="663" font-size="17" fill="#6f95b5" text-anchor="middle" font-style="italic" font-weight="normal" letter-spacing="2" transform="rotate(20 2861.5 663)" stroke="#f8f8f6" stroke-width="3" paint-order="stroke" stroke-linejoin="round">Mississippi</text><text x="2976.5" y="779" font-size="17" fill="#6f95b5" text-anchor="middle" font-style="italic" font-weight="normal" letter-spacing="2" transform="rotate(-26 2976.5 779)" stroke="#f8f8f6" stroke-width="3" paint-order="stroke" stroke-linejoin="round">Kaskaskia</text><text x="2976.5" y="919" font-size="17" fill="#6f95b5" text-anchor="middle" font-style="italic" font-weight="normal" letter-spacing="2" transform="rotate(40 2976.5 919)" stroke="#f8f8f6" stroke-width="3" paint-order="stroke" stroke-linejoin="round">Mississippi</text><text x="2754" y="1273" font-size="17" fill="#6f95b5" text-anchor="middle" font-style="italic" font-weight="normal" letter-spacing="1.5" transform="rotate(-25 2754 1273)" stroke="#f8f8f6" stroke-width="3" paint-order="stroke" stroke-linejoin="round">Black</text>
<defs><linearGradient id="rs" x1="0" x2="1" y1="0" y2="0"><stop offset="0" stop-color="#000" stop-opacity="0"/><stop offset="1" stop-color="#000" stop-opacity="0.13"/></linearGradient><radialGradient id="rs2" cx="1" cy="0.5" r="0.6"><stop offset="0" stop-color="#000" stop-opacity="0.2"/><stop offset="1" stop-color="#000" stop-opacity="0"/></radialGradient></defs>
<ellipse cx="3180" cy="105" rx="14" ry="85" fill="url(#rs2)"/>
<rect x="2462.5" y="0" width="7" height="1484" fill="#faf2e7"/>
<circle cx="2466" cy="763" r="48" fill="#faf2e7"/>
<polygon points="2432,763 2452,743 2452,783" fill="#344b50"/>
<polygon points="2500,763 2480,743 2480,783" fill="#344b50"/>
<circle cx="1722.5" cy="1435" r="48.5" fill="#000" opacity="0.06"/>
<circle cx="1722" cy="1434" r="48" fill="#faf2e7"/>
<g fill="none" stroke="#2f4a4f" stroke-width="2"><rect x="1708.5" y="1420.5" width="5" height="5"/><circle cx="1711" cy="1431" r="2.6"/><rect x="1708.5" y="1436.5" width="5" height="5"/><line x1="1718" y1="1423" x2="1736" y2="1423"/><line x1="1718" y1="1431" x2="1736" y2="1431"/><line x1="1718" y1="1439" x2="1736" y2="1439"/><line x1="1718" y1="1447" x2="1736" y2="1447"/></g><polygon points="1711,1443.5 1714.5,1449.5 1707.5,1449.5" fill="#2f4a4f"/>
</svg>
</body></html>
